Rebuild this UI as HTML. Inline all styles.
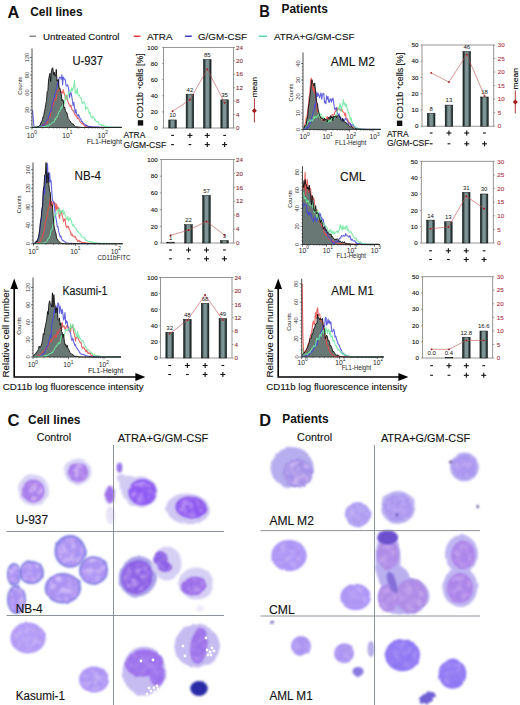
<!DOCTYPE html>
<html><head><meta charset="utf-8"><style>
html,body{margin:0;padding:0;background:#fff;width:520px;height:705px;overflow:hidden}
svg{display:block;font-family:"Liberation Sans",sans-serif}
</style></head><body>
<svg width="520" height="705" viewBox="0 0 520 705">
<defs>
<linearGradient id="bargrad" x1="0" x2="1" y1="0" y2="0">
<stop offset="0" stop-color="#161e1e"/><stop offset="0.15" stop-color="#2e3e3e"/><stop offset="0.35" stop-color="#7e9494"/><stop offset="0.65" stop-color="#7e9494"/><stop offset="0.85" stop-color="#2e3e3e"/><stop offset="1" stop-color="#161e1e"/>
</linearGradient>
<filter id="r1" x="-30%" y="-30%" width="160%" height="160%"><feTurbulence type="fractalNoise" baseFrequency="0.12" numOctaves="2" seed="4" result="t"/><feDisplacementMap in="SourceGraphic" in2="t" scale="2.5" xChannelSelector="R" yChannelSelector="G" result="d"/><feGaussianBlur in="d" stdDeviation="0.9"/></filter>
<filter id="r2" x="-30%" y="-30%" width="160%" height="160%"><feTurbulence type="fractalNoise" baseFrequency="0.3" numOctaves="2" seed="9" result="t"/><feDisplacementMap in="SourceGraphic" in2="t" scale="5" xChannelSelector="R" yChannelSelector="G" result="d"/><feGaussianBlur in="d" stdDeviation="0.9"/></filter>
<filter id="tex" x="0" y="0" width="100%" height="100%"><feTurbulence type="fractalNoise" baseFrequency="0.16" numOctaves="2" seed="2" result="n"/><feColorMatrix in="n" type="matrix" values="0 0 0 0 0.88  0 0 0 0 0.7  0 0 0 0 0.97  3.2 0 0 0 -1.3" result="c"/><feComposite in="c" in2="SourceAlpha" operator="in" result="m"/><feGaussianBlur in="m" stdDeviation="0.9"/></filter>
<filter id="texd" x="0" y="0" width="100%" height="100%"><feTurbulence type="fractalNoise" baseFrequency="0.17" numOctaves="2" seed="11" result="n"/><feColorMatrix in="n" type="matrix" values="0 0 0 0 0.46  0 0 0 0 0.28  0 0 0 0 0.84  3.2 0 0 0 -1.38" result="c"/><feComposite in="c" in2="SourceAlpha" operator="in" result="m"/><feGaussianBlur in="m" stdDeviation="0.9"/></filter>
<filter id="bv"><feGaussianBlur stdDeviation="0.3"/></filter>
<filter id="h1" x="-40%" y="-40%" width="180%" height="180%"><feTurbulence type="fractalNoise" baseFrequency="0.1" numOctaves="2" seed="5" result="t"/><feDisplacementMap in="SourceGraphic" in2="t" scale="3" xChannelSelector="R" yChannelSelector="G" result="d"/><feGaussianBlur in="d" stdDeviation="1.1"/></filter>
</defs>
<rect width="520" height="705" fill="#fff"/>
<g><g filter="url(#h1)">
<ellipse cx="33.3" cy="490" rx="15.5" ry="15.6" fill="#d9d4f6" />
</g>
<g filter="url(#r1)">
<ellipse cx="33.3" cy="490.9" rx="11.2" ry="11.5" fill="#a87cec" />
</g>
<g filter="url(#tex)" opacity="0.6">
<ellipse cx="33.3" cy="490.9" rx="9.52" ry="9.775" fill="#fff" />
</g>
<g filter="url(#texd)" opacity="0.48">
<ellipse cx="33.3" cy="490.9" rx="10.08" ry="10.35" fill="#fff" />
</g>
<g filter="url(#h1)">
<ellipse cx="78" cy="471.5" rx="13.5" ry="13" fill="#d9d4f6" />
</g>
<g filter="url(#r1)">
<ellipse cx="78" cy="472.3" rx="10.2" ry="9.8" fill="#a87cec" />
</g>
<g filter="url(#tex)" opacity="0.6">
<ellipse cx="78" cy="472.3" rx="8.67" ry="8.33" fill="#fff" />
</g>
<g filter="url(#texd)" opacity="0.48">
<ellipse cx="78" cy="472.3" rx="9.18" ry="8.82" fill="#fff" />
</g>
<g filter="url(#h1)">
<ellipse cx="110" cy="495" rx="5.5" ry="9.5" fill="#ddd6f4" />
</g>
<g filter="url(#r1)">
<ellipse cx="110" cy="495" rx="4.2" ry="8" fill="#a070ea" />
</g>
<g filter="url(#h1)">
<ellipse cx="110" cy="515" rx="4" ry="9" fill="#e8e3f6" />
</g>
<g filter="url(#r1)">
</g>
<g filter="url(#h1)">
<ellipse cx="140" cy="492" rx="17.5" ry="15.5" fill="#d2ccf2" />
<ellipse cx="127" cy="483" rx="9" ry="8" fill="#d2ccf2" transform="rotate(-35 127 483)" />
<ellipse cx="121" cy="478" rx="4" ry="4" fill="#d2ccf2" />
</g>
<g filter="url(#r1)">
<ellipse cx="142.4" cy="492.2" rx="14" ry="13" fill="#8c56f4" />
</g>
<g filter="url(#tex)" opacity="0.4">
<ellipse cx="142.4" cy="492.2" rx="11.9" ry="11.049999999999999" fill="#fff" />
</g>
<g filter="url(#texd)" opacity="0.32">
<ellipse cx="142.4" cy="492.2" rx="12.6" ry="11.700000000000001" fill="#fff" />
</g>
<g filter="url(#h1)">
<ellipse cx="119.5" cy="467.5" rx="2.8" ry="5.5" fill="#cdc3ee" />
</g>
<g filter="url(#r1)">
<ellipse cx="119.5" cy="467.5" rx="2.5" ry="5" fill="#9a74e8" />
</g>
<g filter="url(#h1)">
<ellipse cx="188" cy="509" rx="22" ry="15.5" fill="#d0c8f2" transform="rotate(5 188 509)" />
</g>
<g filter="url(#r1)">
<ellipse cx="191" cy="507.5" rx="15.5" ry="11" fill="#8c56f0" transform="rotate(5 191 507.5)" />
</g>
<g filter="url(#tex)" opacity="0.4">
<ellipse cx="191" cy="507.5" rx="13.174999999999999" ry="9.35" fill="#fff" transform="rotate(5 191 507.5)" />
</g>
<g filter="url(#texd)" opacity="0.32">
<ellipse cx="191" cy="507.5" rx="13.950000000000001" ry="9.9" fill="#fff" transform="rotate(5 191 507.5)" />
</g>
<g filter="url(#r1)">
<ellipse cx="70.1" cy="551.4" rx="15.6" ry="16.3" fill="#7c7ce0" />
<ellipse cx="70.1" cy="551.4" rx="13.799999999999999" ry="14.5" fill="#a892f4" />
</g>
<g filter="url(#tex)" opacity="0.6">
<ellipse cx="70.1" cy="551.4" rx="13.26" ry="13.855" fill="#fff" />
</g>
<g filter="url(#texd)" opacity="0.48">
<ellipse cx="70.1" cy="551.4" rx="14.04" ry="14.670000000000002" fill="#fff" />
</g>
<g filter="url(#r1)">
<ellipse cx="93.5" cy="570.4" rx="14.5" ry="14.2" fill="#7c7ce0" />
<ellipse cx="93.5" cy="570.4" rx="12.7" ry="12.399999999999999" fill="#a892f4" />
</g>
<g filter="url(#tex)" opacity="0.6">
<ellipse cx="93.5" cy="570.4" rx="12.325" ry="12.069999999999999" fill="#fff" />
</g>
<g filter="url(#texd)" opacity="0.48">
<ellipse cx="93.5" cy="570.4" rx="13.05" ry="12.78" fill="#fff" />
</g>
<g filter="url(#r1)">
<ellipse cx="62.9" cy="588.2" rx="18.2" ry="15.2" fill="#7c7ce0" />
<ellipse cx="62.9" cy="588.2" rx="16.4" ry="13.399999999999999" fill="#a892f4" />
</g>
<g filter="url(#tex)" opacity="0.6">
<ellipse cx="62.9" cy="588.2" rx="15.469999999999999" ry="12.92" fill="#fff" />
</g>
<g filter="url(#texd)" opacity="0.48">
<ellipse cx="62.9" cy="588.2" rx="16.38" ry="13.68" fill="#fff" />
</g>
<g filter="url(#r1)">
<ellipse cx="31.4" cy="572.5" rx="12.5" ry="11.5" fill="#7c7ce0" />
<ellipse cx="31.4" cy="572.5" rx="10.7" ry="9.7" fill="#a892f4" />
</g>
<g filter="url(#tex)" opacity="0.6">
<ellipse cx="31.4" cy="572.5" rx="10.625" ry="9.775" fill="#fff" />
</g>
<g filter="url(#texd)" opacity="0.48">
<ellipse cx="31.4" cy="572.5" rx="11.25" ry="10.35" fill="#fff" />
</g>
<g filter="url(#r1)">
<ellipse cx="14" cy="574.5" rx="7" ry="11.5" fill="#7c7ce0" />
<ellipse cx="14" cy="574.5" rx="5.2" ry="9.7" fill="#a892f4" />
</g>
<g filter="url(#tex)" opacity="0.6">
<ellipse cx="14" cy="574.5" rx="5.95" ry="9.775" fill="#fff" />
</g>
<g filter="url(#texd)" opacity="0.48">
<ellipse cx="14" cy="574.5" rx="6.3" ry="10.35" fill="#fff" />
</g>
<g filter="url(#r1)">
<ellipse cx="16.5" cy="599.5" rx="9.5" ry="14.5" fill="#7c7ce0" />
<ellipse cx="16.5" cy="599.5" rx="7.7" ry="12.7" fill="#a892f4" />
</g>
<g filter="url(#tex)" opacity="0.6">
<ellipse cx="16.5" cy="599.5" rx="8.075" ry="12.325" fill="#fff" />
</g>
<g filter="url(#texd)" opacity="0.48">
<ellipse cx="16.5" cy="599.5" rx="8.55" ry="13.05" fill="#fff" />
</g>
<g filter="url(#h1)">
<ellipse cx="138" cy="576.5" rx="19" ry="20.5" fill="#aca4ea" transform="rotate(25 138 576.5)" />
</g>
<g filter="url(#r1)">
<ellipse cx="137" cy="577" rx="15.5" ry="17" fill="#8a5ee6" transform="rotate(25 137 577)" />
</g>
<g filter="url(#tex)" opacity="0.4">
<ellipse cx="137" cy="577" rx="13.174999999999999" ry="14.45" fill="#fff" transform="rotate(25 137 577)" />
</g>
<g filter="url(#texd)" opacity="0.32">
<ellipse cx="137" cy="577" rx="13.950000000000001" ry="15.3" fill="#fff" transform="rotate(25 137 577)" />
</g>
<g filter="url(#h1)">
<ellipse cx="167" cy="563.5" rx="14.5" ry="17" fill="#d6d0f4" />
</g>
<g filter="url(#r1)">
<ellipse cx="161" cy="559" rx="6.5" ry="8" fill="#8a5ee6" transform="rotate(-20 161 559)" />
<ellipse cx="165" cy="567" rx="7" ry="5" fill="#8a5ee6" />
</g>
<g filter="url(#tex)" opacity="0.3">
<ellipse cx="161" cy="559" rx="5.5249999999999995" ry="6.8" fill="#fff" transform="rotate(-20 161 559)" />
<ellipse cx="165" cy="567" rx="5.95" ry="4.25" fill="#fff" />
</g>
<g filter="url(#texd)" opacity="0.24">
<ellipse cx="161" cy="559" rx="5.8500000000000005" ry="7.2" fill="#fff" transform="rotate(-20 161 559)" />
<ellipse cx="165" cy="567" rx="6.3" ry="4.5" fill="#fff" />
</g>
<g filter="url(#h1)">
<ellipse cx="196" cy="583.5" rx="17.5" ry="16" fill="#d6d0f4" />
</g>
<g filter="url(#r1)">
<ellipse cx="193.5" cy="586" rx="12.5" ry="9" fill="#9a6cea" transform="rotate(-10 193.5 586)" />
</g>
<g filter="url(#tex)" opacity="0.35">
<ellipse cx="193.5" cy="586" rx="10.625" ry="7.6499999999999995" fill="#fff" transform="rotate(-10 193.5 586)" />
</g>
<g filter="url(#texd)" opacity="0.28">
<ellipse cx="193.5" cy="586" rx="11.25" ry="8.1" fill="#fff" transform="rotate(-10 193.5 586)" />
</g>
<g filter="url(#h1)">
<ellipse cx="200" cy="609" rx="4" ry="2.5" fill="#eeeaf8" />
</g>
<g filter="url(#r1)">
</g>
<g filter="url(#r1)">
<ellipse cx="28" cy="638" rx="17.6" ry="15.5" fill="#b29cf6" />
</g>
<g filter="url(#tex)" opacity="0.35">
<ellipse cx="28" cy="638" rx="14.96" ry="13.174999999999999" fill="#fff" />
</g>
<g filter="url(#texd)" opacity="0.28">
<ellipse cx="28" cy="638" rx="15.840000000000002" ry="13.950000000000001" fill="#fff" />
</g>
<g filter="url(#r1)">
<ellipse cx="94" cy="679.5" rx="15" ry="13" fill="#ae98f6" />
</g>
<g filter="url(#tex)" opacity="0.35">
<ellipse cx="94" cy="679.5" rx="12.75" ry="11.049999999999999" fill="#fff" />
</g>
<g filter="url(#texd)" opacity="0.28">
<ellipse cx="94" cy="679.5" rx="13.5" ry="11.700000000000001" fill="#fff" />
</g>
<g filter="url(#h1)">
<ellipse cx="144" cy="671" rx="21.5" ry="24.5" fill="#c6bcf2" />
</g>
<g filter="url(#r1)">
<ellipse cx="144" cy="663" rx="19" ry="13.5" fill="#9c70ec" transform="rotate(-5 144 663)" />
<ellipse cx="157" cy="675" rx="7.5" ry="11" fill="#9c70ec" />
</g>
<g filter="url(#tex)" opacity="0.2">
<ellipse cx="144" cy="663" rx="16.15" ry="11.475" fill="#fff" transform="rotate(-5 144 663)" />
<ellipse cx="157" cy="675" rx="6.375" ry="9.35" fill="#fff" />
</g>
<g filter="url(#texd)" opacity="0.16">
<ellipse cx="144" cy="663" rx="17.1" ry="12.15" fill="#fff" transform="rotate(-5 144 663)" />
<ellipse cx="157" cy="675" rx="6.75" ry="9.9" fill="#fff" />
</g>
<g fill="#fbfaff" filter="url(#bv)"><circle cx="141" cy="661" r="1.4"/><circle cx="153" cy="660" r="1.4"/><circle cx="154" cy="688" r="1.4"/><circle cx="151" cy="691" r="1.4"/><circle cx="157" cy="686" r="1.4"/><circle cx="155" cy="692" r="1.4"/><circle cx="158" cy="689" r="1.4"/><circle cx="147" cy="694" r="1.4"/><circle cx="149" cy="688" r="1.4"/></g>
<g filter="url(#h1)">
<ellipse cx="197" cy="646" rx="22.7" ry="21.5" fill="#c6bcf2" />
</g>
<g filter="url(#r1)">
<ellipse cx="199" cy="646" rx="8.5" ry="18" fill="#9c72ea" transform="rotate(8 199 646)" />
</g>
<g filter="url(#tex)" opacity="0.2">
<ellipse cx="199" cy="646" rx="7.225" ry="15.299999999999999" fill="#fff" transform="rotate(8 199 646)" />
</g>
<g filter="url(#texd)" opacity="0.16">
<ellipse cx="199" cy="646" rx="7.65" ry="16.2" fill="#fff" transform="rotate(8 199 646)" />
</g>
<g fill="#fbfaff" filter="url(#bv)"><circle cx="207" cy="650" r="1.4"/><circle cx="210" cy="652" r="1.4"/><circle cx="208" cy="655" r="1.4"/><circle cx="212" cy="648" r="1.4"/><circle cx="211" cy="655" r="1.4"/><circle cx="214" cy="651" r="1.4"/><circle cx="183" cy="646" r="1.4"/><circle cx="185" cy="656" r="1.4"/><circle cx="206" cy="638" r="1.4"/></g>
<g filter="url(#r1)">
<ellipse cx="199" cy="688.5" rx="8.8" ry="7.5" fill="#2a2aa8" />
</g>
<g filter="url(#h1)">
<ellipse cx="292" cy="467.5" rx="21.5" ry="20.5" fill="#b6aeee" />
</g>
<g filter="url(#r2)">
<ellipse cx="298" cy="473" rx="15" ry="14" fill="#a494e8" />
</g>
<g filter="url(#tex)" opacity="0.5">
<ellipse cx="298" cy="473" rx="12.75" ry="11.9" fill="#fff" />
</g>
<g filter="url(#texd)" opacity="0.40">
<ellipse cx="298" cy="473" rx="13.5" ry="12.6" fill="#fff" />
</g>
<g filter="url(#r1)">
<ellipse cx="357.7" cy="514.5" rx="12.8" ry="12.5" fill="#aea0f2" />
</g>
<g filter="url(#tex)" opacity="0.3">
<ellipse cx="357.7" cy="514.5" rx="10.88" ry="10.625" fill="#fff" />
</g>
<g filter="url(#texd)" opacity="0.24">
<ellipse cx="357.7" cy="514.5" rx="11.520000000000001" ry="11.25" fill="#fff" />
</g>
<g filter="url(#h1)">
<ellipse cx="464.4" cy="467" rx="14.5" ry="14.5" fill="#bcb2f0" />
</g>
<g filter="url(#r2)">
<ellipse cx="464.4" cy="467" rx="12" ry="12" fill="#aa98f0" />
</g>
<g filter="url(#tex)" opacity="0.3">
<ellipse cx="464.4" cy="467" rx="10.2" ry="10.2" fill="#fff" />
</g>
<g filter="url(#texd)" opacity="0.24">
<ellipse cx="464.4" cy="467" rx="10.8" ry="10.8" fill="#fff" />
</g>
<g filter="url(#h1)">
<ellipse cx="398" cy="507.4" rx="17" ry="16.4" fill="#bcb2f0" />
</g>
<g filter="url(#r2)">
<ellipse cx="398" cy="507.4" rx="14" ry="13.5" fill="#aa98f0" />
</g>
<g filter="url(#tex)" opacity="0.3">
<ellipse cx="398" cy="507.4" rx="11.9" ry="11.475" fill="#fff" />
</g>
<g filter="url(#texd)" opacity="0.24">
<ellipse cx="398" cy="507.4" rx="12.6" ry="12.15" fill="#fff" />
</g>
<g filter="url(#r1)">
<ellipse cx="450.5" cy="462" rx="1.3" ry="1.3" fill="#3a2a80" />
<ellipse cx="478" cy="506" rx="1.5" ry="1.2" fill="#3a2a80" />
<ellipse cx="397" cy="515" rx="1" ry="1" fill="#3a2a80" />
</g>
<g filter="url(#r1)">
<ellipse cx="289" cy="555.5" rx="17.7" ry="15.6" fill="#ac96f6" />
</g>
<g filter="url(#tex)" opacity="0.3">
<ellipse cx="289" cy="555.5" rx="15.044999999999998" ry="13.26" fill="#fff" />
</g>
<g filter="url(#texd)" opacity="0.24">
<ellipse cx="289" cy="555.5" rx="15.93" ry="14.04" fill="#fff" />
</g>
<g filter="url(#r1)">
<ellipse cx="355.6" cy="597" rx="15.3" ry="13.2" fill="#ac96f6" />
</g>
<g filter="url(#tex)" opacity="0.3">
<ellipse cx="355.6" cy="597" rx="13.005" ry="11.219999999999999" fill="#fff" />
</g>
<g filter="url(#texd)" opacity="0.24">
<ellipse cx="355.6" cy="597" rx="13.770000000000001" ry="11.879999999999999" fill="#fff" />
</g>
<g filter="url(#h1)">
<ellipse cx="388" cy="560" rx="12.5" ry="30" fill="#bab0f0" />
<ellipse cx="404" cy="596" rx="25.5" ry="19" fill="#bab0f0" />
<ellipse cx="395" cy="580" rx="15" ry="15" fill="#bab0f0" />
</g>
<g filter="url(#r1)">
<ellipse cx="388" cy="555" rx="11" ry="14" fill="#ae8ce6" />
<ellipse cx="411" cy="596" rx="16" ry="17" fill="#ae8ce6" />
<ellipse cx="388" cy="598" rx="10" ry="14" fill="#ae8ce6" />
</g>
<g filter="url(#tex)" opacity="0.3">
<ellipse cx="388" cy="555" rx="9.35" ry="11.9" fill="#fff" />
<ellipse cx="411" cy="596" rx="13.6" ry="14.45" fill="#fff" />
<ellipse cx="388" cy="598" rx="8.5" ry="11.9" fill="#fff" />
</g>
<g filter="url(#texd)" opacity="0.24">
<ellipse cx="388" cy="555" rx="9.9" ry="12.6" fill="#fff" />
<ellipse cx="411" cy="596" rx="14.4" ry="15.3" fill="#fff" />
<ellipse cx="388" cy="598" rx="9.0" ry="12.6" fill="#fff" />
</g>
<g filter="url(#r1)">
<ellipse cx="387.5" cy="537.5" rx="10.5" ry="7" fill="#6c50cc" />
</g>
<g filter="url(#r1)">
<ellipse cx="392" cy="582" rx="4" ry="12" fill="#8470d8" transform="rotate(-20 392 582)" />
</g>
<g filter="url(#h1)">
<ellipse cx="461.5" cy="554" rx="16.5" ry="19" fill="#c0b6f2" />
<ellipse cx="460" cy="587" rx="17.5" ry="20" fill="#c0b6f2" />
</g>
<g filter="url(#r1)">
<ellipse cx="463" cy="555" rx="12" ry="14" fill="#ac84ea" />
<ellipse cx="460" cy="588" rx="13" ry="15" fill="#ac84ea" />
</g>
<g filter="url(#tex)" opacity="0.3">
<ellipse cx="463" cy="555" rx="10.2" ry="11.9" fill="#fff" />
<ellipse cx="460" cy="588" rx="11.049999999999999" ry="12.75" fill="#fff" />
</g>
<g filter="url(#texd)" opacity="0.24">
<ellipse cx="463" cy="555" rx="10.8" ry="12.6" fill="#fff" />
<ellipse cx="460" cy="588" rx="11.700000000000001" ry="13.5" fill="#fff" />
</g>
<g filter="url(#r1)">
<ellipse cx="301" cy="646" rx="10" ry="10" fill="#aa96f2" />
</g>
<g filter="url(#tex)" opacity="0.2">
<ellipse cx="301" cy="646" rx="8.5" ry="8.5" fill="#fff" />
</g>
<g filter="url(#texd)" opacity="0.16">
<ellipse cx="301" cy="646" rx="9.0" ry="9.0" fill="#fff" />
</g>
<g filter="url(#r1)">
<ellipse cx="344" cy="653.3" rx="10" ry="10" fill="#aa96f2" />
</g>
<g filter="url(#tex)" opacity="0.2">
<ellipse cx="344" cy="653.3" rx="8.5" ry="8.5" fill="#fff" />
</g>
<g filter="url(#texd)" opacity="0.16">
<ellipse cx="344" cy="653.3" rx="9.0" ry="9.0" fill="#fff" />
</g>
<g filter="url(#r1)">
<ellipse cx="358" cy="671.5" rx="5.5" ry="4.5" fill="#8878e0" />
</g>
<g filter="url(#r1)">
<ellipse cx="371" cy="649" rx="3.5" ry="8" fill="#b8aee8" />
</g>
<g filter="url(#r1)">
<ellipse cx="272" cy="622.5" rx="2" ry="1.5" fill="#8070c8" />
</g>
<g filter="url(#r1)">
<ellipse cx="402.5" cy="655" rx="17.5" ry="16.3" fill="#8e78f4" />
</g>
<g filter="url(#tex)" opacity="0.2">
<ellipse cx="402.5" cy="655" rx="14.875" ry="13.855" fill="#fff" />
</g>
<g filter="url(#texd)" opacity="0.16">
<ellipse cx="402.5" cy="655" rx="15.75" ry="14.670000000000002" fill="#fff" />
</g>
<g filter="url(#r1)">
<ellipse cx="452.5" cy="673.8" rx="13.8" ry="15" fill="#8e78f4" />
</g>
<g filter="url(#tex)" opacity="0.2">
<ellipse cx="452.5" cy="673.8" rx="11.73" ry="12.75" fill="#fff" />
</g>
<g filter="url(#texd)" opacity="0.16">
<ellipse cx="452.5" cy="673.8" rx="12.420000000000002" ry="13.5" fill="#fff" />
</g>
<g filter="url(#r2)">
<ellipse cx="427" cy="698" rx="9" ry="5" fill="#7060d4" transform="rotate(-30 427 698)" />
</g></g>
<g><line x1="113.50" y1="445.00" x2="113.50" y2="705.00" stroke="#808890" stroke-width="0.9" />
<line x1="6.50" y1="531.50" x2="224.00" y2="531.50" stroke="#808890" stroke-width="0.9" />
<line x1="6.50" y1="615.50" x2="224.00" y2="615.50" stroke="#808890" stroke-width="0.9" />
<line x1="374.50" y1="445.00" x2="374.50" y2="705.00" stroke="#808890" stroke-width="0.9" />
<line x1="260.50" y1="530.60" x2="480.00" y2="530.60" stroke="#808890" stroke-width="0.9" />
<line x1="260.50" y1="616.00" x2="480.00" y2="616.00" stroke="#808890" stroke-width="0.9" />
<text x="15.70" y="524.20" font-size="12" fill="#111" text-anchor="start" stroke="#111" stroke-width="0.12" textLength="32.3" lengthAdjust="spacingAndGlyphs" >U-937</text>
<text x="15.70" y="613.20" font-size="12" fill="#111" text-anchor="start" stroke="#111" stroke-width="0.12" textLength="27" lengthAdjust="spacingAndGlyphs" >NB-4</text>
<text x="15.70" y="700.00" font-size="12" fill="#111" text-anchor="start" stroke="#111" stroke-width="0.12" textLength="49.3" lengthAdjust="spacingAndGlyphs" >Kasumi-1</text>
<text x="269.40" y="524.60" font-size="12" fill="#111" text-anchor="start" stroke="#111" stroke-width="0.12" textLength="44.5" lengthAdjust="spacingAndGlyphs" >AML M2</text>
<text x="269.00" y="613.50" font-size="12" fill="#111" text-anchor="start" stroke="#111" stroke-width="0.12" textLength="25.7" lengthAdjust="spacingAndGlyphs" >CML</text>
<text x="269.40" y="700.00" font-size="12" fill="#111" text-anchor="start" stroke="#111" stroke-width="0.12" textLength="43.3" lengthAdjust="spacingAndGlyphs" >AML M1</text></g>
<g><text x="7.50" y="17.60" font-size="17" fill="#111" text-anchor="start" font-weight="bold" textLength="11.8" lengthAdjust="spacingAndGlyphs" >A</text>
<text x="30.20" y="16.30" font-size="12" fill="#111" text-anchor="start" font-weight="bold" textLength="52.4" lengthAdjust="spacingAndGlyphs" >Cell lines</text>
<text x="259.30" y="16.90" font-size="17" fill="#111" text-anchor="start" font-weight="bold" textLength="10.6" lengthAdjust="spacingAndGlyphs" >B</text>
<text x="281.50" y="12.50" font-size="12" fill="#111" text-anchor="start" font-weight="bold" textLength="46.4" lengthAdjust="spacingAndGlyphs" >Patients</text>
<line x1="29.50" y1="36.20" x2="36.00" y2="36.20" stroke="#777" stroke-width="1.3" />
<line x1="133.70" y1="36.20" x2="140.50" y2="36.20" stroke="#e02020" stroke-width="1.3" />
<line x1="185.00" y1="36.20" x2="191.80" y2="36.20" stroke="#2020c0" stroke-width="1.3" />
<line x1="258.70" y1="36.20" x2="267.00" y2="36.20" stroke="#40d0a0" stroke-width="1.3" />
<text x="43.00" y="39.50" font-size="9.7" fill="#111" text-anchor="start" stroke="#111" stroke-width="0.12" textLength="76.5" lengthAdjust="spacingAndGlyphs" >Untreated Control</text>
<text x="147.00" y="39.50" font-size="9.7" fill="#111" text-anchor="start" stroke="#111" stroke-width="0.12" textLength="25.5" lengthAdjust="spacingAndGlyphs" >ATRA</text>
<text x="198.00" y="39.50" font-size="9.7" fill="#111" text-anchor="start" stroke="#111" stroke-width="0.12" textLength="49" lengthAdjust="spacingAndGlyphs" >G/GM-CSF</text>
<text x="274.00" y="39.50" font-size="9.7" fill="#111" text-anchor="start" stroke="#111" stroke-width="0.12" textLength="80.5" lengthAdjust="spacingAndGlyphs" >ATRA+G/GM-CSF</text>
<path d="M32.00,127.50 L32.50,127.48 L33.20,127.47 L33.90,127.45 L34.60,127.42 L35.30,127.36 L36.00,127.29 L36.70,127.13 L37.40,126.85 L38.10,126.63 L38.80,126.36 L39.50,125.50 L40.20,125.08 L40.90,122.67 L41.60,122.51 L42.30,119.76 L43.00,117.06 L43.70,115.87 L44.40,111.76 L45.10,108.64 L45.80,104.23 L46.50,100.38 L47.20,91.78 L47.90,90.48 L48.60,80.00 L49.30,75.97 L50.00,73.31 L50.70,81.53 L51.40,70.71 L52.10,68.56 L52.80,67.71 L53.50,74.67 L54.20,72.10 L54.90,75.96 L55.60,75.99 L56.30,69.38 L57.00,81.17 L57.70,79.83 L58.40,79.49 L59.10,88.20 L59.80,88.03 L60.50,90.80 L61.20,93.89 L61.90,100.49 L62.60,99.49 L63.30,100.33 L64.00,108.18 L64.70,107.16 L65.40,110.75 L66.10,112.32 L66.80,112.52 L67.50,115.25 L68.20,118.70 L68.90,119.40 L69.60,120.45 L70.30,121.30 L71.00,122.48 L71.70,123.52 L72.40,123.94 L73.10,123.72 L73.80,124.97 L74.50,125.44 L75.20,126.44 L75.90,127.17 L76.60,126.68 L77.30,126.82 L78.00,126.95 L78.70,127.04 L79.40,127.14 L80.10,127.27 L80.80,127.32 L81.50,127.35 L82.20,127.41 L82.90,127.42 L83.60,127.44 L84.30,127.45 L85.00,127.47 L85.70,127.48 L86.40,127.48 L87.10,127.49 L87.80,127.49 L88.50,127.49 L89.20,127.50 L89.90,127.50 L90.60,127.50 L91.30,127.50 L92.00,127.50 L92.70,127.50 L93.40,127.50 L94.10,127.50 L94.80,127.50 L95.50,127.50 L96.20,127.50 L96.90,127.50 L97.60,127.50 L98.30,127.50 L99.00,127.50 L99.70,127.50 L100.40,127.50 L101.10,127.50 L101.80,127.50 L102.50,127.50 L103.20,127.50 L103.90,127.50 L104.60,127.50 L105.30,127.50 L106.00,127.50 L106.70,127.50 L107.40,127.50 L108.10,127.50 L108.80,127.50 L109.50,127.50 L110.20,127.50 L110.90,127.50 L111.60,127.50 L112.30,127.50 L113.00,127.50 L113.70,127.50 L114.40,127.50 L115.10,127.50 L115.80,127.50 L116.50,127.50 L117.20,127.50 L117.90,127.50 L118.60,127.50 L119.30,127.50 L120.00,127.50 L120.70,127.50 L121.40,127.50 L121.40,127.50 Z" fill="#6a7875" stroke="none"/>
<path d="M32.50,127.20 L33.20,127.19 L33.90,127.19 L34.60,127.19 L35.30,127.18 L36.00,127.16 L36.70,127.14 L37.40,127.12 L38.10,127.09 L38.80,127.01 L39.50,126.96 L40.20,126.80 L40.90,126.74 L41.60,126.49 L42.30,126.22 L43.00,126.49 L43.70,125.10 L44.40,124.40 L45.10,124.56 L45.80,122.55 L46.50,122.14 L47.20,123.23 L47.90,120.32 L48.60,117.94 L49.30,116.32 L50.00,117.01 L50.70,112.28 L51.40,110.53 L52.10,105.85 L52.80,105.87 L53.50,104.17 L54.20,99.39 L54.90,99.47 L55.60,98.89 L56.30,99.71 L57.00,90.94 L57.70,90.63 L58.40,90.73 L59.10,89.93 L59.80,90.37 L60.50,91.41 L61.20,91.61 L61.90,92.36 L62.60,93.09 L63.30,89.57 L64.00,93.03 L64.70,95.36 L65.40,98.02 L66.10,99.48 L66.80,95.39 L67.50,99.83 L68.20,102.34 L68.90,103.72 L69.60,105.80 L70.30,106.57 L71.00,105.33 L71.70,108.98 L72.40,110.12 L73.10,110.22 L73.80,111.84 L74.50,113.82 L75.20,114.82 L75.90,115.88 L76.60,115.84 L77.30,118.62 L78.00,117.89 L78.70,118.82 L79.40,120.38 L80.10,121.75 L80.80,122.81 L81.50,123.00 L82.20,123.84 L82.90,123.46 L83.60,124.78 L84.30,125.14 L85.00,126.51 L85.70,125.50 L86.40,126.66 L87.10,126.36 L87.80,126.52 L88.50,126.54 L89.20,126.77 L89.90,126.80 L90.60,126.88 L91.30,126.98 L92.00,127.03 L92.70,127.05 L93.40,127.11 L94.10,127.13 L94.80,127.15 L95.50,127.16 L96.20,127.17 L96.90,127.18 L97.60,127.19 L98.30,127.19 L99.00,127.19 L99.70,127.19 L100.40,127.20 L101.10,127.20 L101.80,127.20 L102.50,127.20 L103.20,127.20 L103.90,127.20 L104.60,127.20 L105.30,127.20 L106.00,127.20 L106.70,127.20 L107.40,127.20 L108.10,127.20 L108.80,127.20 L109.50,127.20 L110.20,127.20 L110.90,127.20 L111.60,127.20 L112.30,127.20 L113.00,127.20 L113.70,127.20 L114.40,127.20 L115.10,127.20 L115.80,127.20 L116.50,127.20 L117.20,127.20 L117.90,127.20 L118.60,127.20 L119.30,127.20 L120.00,127.20 L120.70,127.20 L121.40,127.20" fill="none" stroke="#e84848" stroke-width="1.1" stroke-opacity="0.85" stroke-linejoin="round"/>
<path d="M32.50,110.09 L33.20,117.30 L33.90,126.49 L34.60,127.15 L35.30,127.13 L36.00,127.12 L36.70,127.09 L37.40,127.03 L38.10,126.97 L38.80,126.89 L39.50,126.75 L40.20,126.65 L40.90,126.35 L41.60,126.01 L42.30,126.18 L43.00,124.99 L43.70,124.82 L44.40,124.98 L45.10,123.44 L45.80,122.89 L46.50,120.69 L47.20,120.42 L47.90,119.73 L48.60,116.00 L49.30,114.82 L50.00,112.17 L50.70,110.62 L51.40,110.79 L52.10,103.84 L52.80,101.79 L53.50,99.98 L54.20,97.00 L54.90,93.75 L55.60,93.47 L56.30,89.14 L57.00,87.47 L57.70,81.73 L58.40,85.48 L59.10,78.18 L59.80,77.24 L60.50,77.52 L61.20,79.17 L61.90,74.90 L62.60,84.94 L63.30,76.93 L64.00,79.09 L64.70,78.77 L65.40,80.44 L66.10,86.04 L66.80,86.03 L67.50,84.79 L68.20,86.87 L68.90,90.95 L69.60,97.46 L70.30,93.58 L71.00,92.52 L71.70,96.14 L72.40,100.67 L73.10,105.72 L73.80,102.26 L74.50,107.48 L75.20,112.87 L75.90,109.50 L76.60,113.86 L77.30,114.93 L78.00,116.32 L78.70,114.54 L79.40,117.25 L80.10,118.62 L80.80,118.76 L81.50,121.52 L82.20,121.58 L82.90,122.86 L83.60,123.44 L84.30,123.66 L85.00,124.50 L85.70,125.77 L86.40,124.98 L87.10,125.85 L87.80,126.11 L88.50,126.43 L89.20,126.21 L89.90,126.40 L90.60,126.52 L91.30,126.68 L92.00,126.80 L92.70,126.86 L93.40,126.96 L94.10,127.02 L94.80,127.03 L95.50,127.07 L96.20,127.10 L96.90,127.13 L97.60,127.14 L98.30,127.15 L99.00,127.17 L99.70,127.18 L100.40,127.18 L101.10,127.18 L101.80,127.19 L102.50,127.19 L103.20,127.19 L103.90,127.19 L104.60,127.20 L105.30,127.20 L106.00,127.20 L106.70,127.20 L107.40,127.20 L108.10,127.20 L108.80,127.20 L109.50,127.20 L110.20,127.20 L110.90,127.20 L111.60,127.20 L112.30,127.20 L113.00,127.20 L113.70,127.20 L114.40,127.20 L115.10,127.20 L115.80,127.20 L116.50,127.20 L117.20,127.20 L117.90,127.20 L118.60,127.20 L119.30,127.20 L120.00,127.20 L120.70,127.20 L121.40,127.20" fill="none" stroke="#4646d8" stroke-width="1.1" stroke-opacity="0.85" stroke-linejoin="round"/>
<path d="M32.50,127.19 L33.20,127.19 L33.90,127.18 L34.60,127.18 L35.30,127.17 L36.00,127.17 L36.70,127.15 L37.40,127.14 L38.10,127.11 L38.80,127.09 L39.50,127.05 L40.20,127.05 L40.90,126.97 L41.60,126.93 L42.30,126.88 L43.00,126.76 L43.70,126.72 L44.40,126.67 L45.10,126.45 L45.80,126.37 L46.50,126.10 L47.20,125.50 L47.90,125.84 L48.60,126.30 L49.30,124.41 L50.00,124.41 L50.70,124.14 L51.40,123.74 L52.10,122.72 L52.80,122.36 L53.50,122.24 L54.20,121.85 L54.90,118.69 L55.60,119.74 L56.30,116.79 L57.00,116.93 L57.70,115.48 L58.40,113.31 L59.10,111.37 L59.80,111.54 L60.50,109.47 L61.20,107.08 L61.90,108.35 L62.60,105.62 L63.30,103.71 L64.00,101.01 L64.70,103.59 L65.40,94.80 L66.10,97.02 L66.80,99.20 L67.50,99.30 L68.20,94.06 L68.90,92.50 L69.60,93.73 L70.30,90.55 L71.00,91.20 L71.70,87.73 L72.40,90.94 L73.10,88.60 L73.80,85.96 L74.50,80.38 L75.20,93.34 L75.90,91.18 L76.60,93.50 L77.30,88.21 L78.00,94.54 L78.70,95.74 L79.40,94.90 L80.10,97.40 L80.80,98.32 L81.50,98.31 L82.20,103.68 L82.90,103.01 L83.60,101.93 L84.30,102.57 L85.00,103.88 L85.70,109.93 L86.40,107.20 L87.10,107.55 L87.80,108.07 L88.50,110.94 L89.20,113.54 L89.90,112.17 L90.60,115.39 L91.30,116.98 L92.00,117.99 L92.70,116.20 L93.40,117.79 L94.10,117.74 L94.80,120.27 L95.50,119.53 L96.20,121.61 L96.90,122.09 L97.60,121.28 L98.30,122.20 L99.00,123.92 L99.70,124.17 L100.40,124.42 L101.10,124.46 L101.80,125.69 L102.50,124.99 L103.20,125.87 L103.90,125.54 L104.60,126.50 L105.30,125.86 L106.00,126.31 L106.70,126.42 L107.40,126.63 L108.10,126.64 L108.80,126.68 L109.50,126.80 L110.20,126.88 L110.90,126.94 L111.60,126.95 L112.30,127.04 L113.00,127.05 L113.70,127.07 L114.40,127.10 L115.10,127.12 L115.80,127.13 L116.50,127.15 L117.20,127.16 L117.90,127.17 L118.60,127.17 L119.30,127.18 L120.00,127.18 L120.70,127.19 L121.40,127.19" fill="none" stroke="#6ee8a0" stroke-width="1.1" stroke-opacity="0.85" stroke-linejoin="round"/>
<path d="M32.50,127.48 L33.20,127.47 L33.90,127.45 L34.60,127.42 L35.30,127.36 L36.00,127.29 L36.70,127.13 L37.40,126.85 L38.10,126.63 L38.80,126.36 L39.50,125.50 L40.20,125.08 L40.90,122.67 L41.60,122.51 L42.30,119.76 L43.00,117.06 L43.70,115.87 L44.40,111.76 L45.10,108.64 L45.80,104.23 L46.50,100.38 L47.20,91.78 L47.90,90.48 L48.60,80.00 L49.30,75.97 L50.00,73.31 L50.70,81.53 L51.40,70.71 L52.10,68.56 L52.80,67.71 L53.50,74.67 L54.20,72.10 L54.90,75.96 L55.60,75.99 L56.30,69.38 L57.00,81.17 L57.70,79.83 L58.40,79.49 L59.10,88.20 L59.80,88.03 L60.50,90.80 L61.20,93.89 L61.90,100.49 L62.60,99.49 L63.30,100.33 L64.00,108.18 L64.70,107.16 L65.40,110.75 L66.10,112.32 L66.80,112.52 L67.50,115.25 L68.20,118.70 L68.90,119.40 L69.60,120.45 L70.30,121.30 L71.00,122.48 L71.70,123.52 L72.40,123.94 L73.10,123.72 L73.80,124.97 L74.50,125.44 L75.20,126.44 L75.90,127.17 L76.60,126.68 L77.30,126.82 L78.00,126.95 L78.70,127.04 L79.40,127.14 L80.10,127.27 L80.80,127.32 L81.50,127.35 L82.20,127.41 L82.90,127.42 L83.60,127.44 L84.30,127.45 L85.00,127.47 L85.70,127.48 L86.40,127.48 L87.10,127.49 L87.80,127.49 L88.50,127.49 L89.20,127.50 L89.90,127.50 L90.60,127.50 L91.30,127.50 L92.00,127.50 L92.70,127.50 L93.40,127.50 L94.10,127.50 L94.80,127.50 L95.50,127.50 L96.20,127.50 L96.90,127.50 L97.60,127.50 L98.30,127.50 L99.00,127.50 L99.70,127.50 L100.40,127.50 L101.10,127.50 L101.80,127.50 L102.50,127.50 L103.20,127.50 L103.90,127.50 L104.60,127.50 L105.30,127.50 L106.00,127.50 L106.70,127.50 L107.40,127.50 L108.10,127.50 L108.80,127.50 L109.50,127.50 L110.20,127.50 L110.90,127.50 L111.60,127.50 L112.30,127.50 L113.00,127.50 L113.70,127.50 L114.40,127.50 L115.10,127.50 L115.80,127.50 L116.50,127.50 L117.20,127.50 L117.90,127.50 L118.60,127.50 L119.30,127.50 L120.00,127.50 L120.70,127.50 L121.40,127.50" fill="none" stroke="#111" stroke-width="0.9" stroke-linejoin="round"/>
<line x1="32.00" y1="48.50" x2="32.00" y2="127.50" stroke="#222" stroke-width="0.8" />
<line x1="32.00" y1="127.50" x2="122.00" y2="127.50" stroke="#222" stroke-width="0.8" />
<line x1="30.00" y1="127.50" x2="32.00" y2="127.50" stroke="#222" stroke-width="0.6" />
<text x="28.80" y="127.50" font-size="5.6" fill="#333" text-anchor="middle" transform="rotate(-90 28.80 127.50)" >0</text>
<line x1="30.00" y1="110.00" x2="32.00" y2="110.00" stroke="#222" stroke-width="0.6" />
<text x="28.80" y="110.00" font-size="5.6" fill="#333" text-anchor="middle" transform="rotate(-90 28.80 110.00)" >30</text>
<line x1="30.00" y1="92.50" x2="32.00" y2="92.50" stroke="#222" stroke-width="0.6" />
<text x="28.80" y="92.50" font-size="5.6" fill="#333" text-anchor="middle" transform="rotate(-90 28.80 92.50)" >60</text>
<line x1="30.00" y1="75.00" x2="32.00" y2="75.00" stroke="#222" stroke-width="0.6" />
<text x="28.80" y="75.00" font-size="5.6" fill="#333" text-anchor="middle" transform="rotate(-90 28.80 75.00)" >90</text>
<line x1="30.00" y1="57.50" x2="32.00" y2="57.50" stroke="#222" stroke-width="0.6" />
<text x="28.80" y="57.50" font-size="5.6" fill="#333" text-anchor="middle" transform="rotate(-90 28.80 57.50)" >120</text>
<line x1="30.80" y1="124.00" x2="32.00" y2="124.00" stroke="#222" stroke-width="0.5" />
<line x1="30.80" y1="120.50" x2="32.00" y2="120.50" stroke="#222" stroke-width="0.5" />
<line x1="30.80" y1="117.00" x2="32.00" y2="117.00" stroke="#222" stroke-width="0.5" />
<line x1="30.80" y1="113.50" x2="32.00" y2="113.50" stroke="#222" stroke-width="0.5" />
<line x1="30.80" y1="106.50" x2="32.00" y2="106.50" stroke="#222" stroke-width="0.5" />
<line x1="30.80" y1="103.00" x2="32.00" y2="103.00" stroke="#222" stroke-width="0.5" />
<line x1="30.80" y1="99.50" x2="32.00" y2="99.50" stroke="#222" stroke-width="0.5" />
<line x1="30.80" y1="96.00" x2="32.00" y2="96.00" stroke="#222" stroke-width="0.5" />
<line x1="30.80" y1="89.00" x2="32.00" y2="89.00" stroke="#222" stroke-width="0.5" />
<line x1="30.80" y1="85.50" x2="32.00" y2="85.50" stroke="#222" stroke-width="0.5" />
<line x1="30.80" y1="82.00" x2="32.00" y2="82.00" stroke="#222" stroke-width="0.5" />
<line x1="30.80" y1="78.50" x2="32.00" y2="78.50" stroke="#222" stroke-width="0.5" />
<line x1="30.80" y1="71.50" x2="32.00" y2="71.50" stroke="#222" stroke-width="0.5" />
<line x1="30.80" y1="68.00" x2="32.00" y2="68.00" stroke="#222" stroke-width="0.5" />
<line x1="30.80" y1="64.50" x2="32.00" y2="64.50" stroke="#222" stroke-width="0.5" />
<line x1="30.80" y1="61.00" x2="32.00" y2="61.00" stroke="#222" stroke-width="0.5" />
<text x="22.30" y="85.75" font-size="5.6" fill="#222" text-anchor="middle" transform="rotate(-90 22.30 85.75)" >Counts</text>
<line x1="32.00" y1="127.50" x2="32.00" y2="129.70" stroke="#222" stroke-width="0.6" />
<text x="30.50" y="137.70" font-size="6.7" fill="#222" text-anchor="middle" >10</text>
<text x="34.30" y="134.10" font-size="4.8" fill="#222" text-anchor="start" >0</text>
<line x1="42.69" y1="127.50" x2="42.69" y2="128.70" stroke="#222" stroke-width="0.5" />
<line x1="48.94" y1="127.50" x2="48.94" y2="128.70" stroke="#222" stroke-width="0.5" />
<line x1="53.37" y1="127.50" x2="53.37" y2="128.70" stroke="#222" stroke-width="0.5" />
<line x1="56.81" y1="127.50" x2="56.81" y2="128.70" stroke="#222" stroke-width="0.5" />
<line x1="59.62" y1="127.50" x2="59.62" y2="128.70" stroke="#222" stroke-width="0.5" />
<line x1="62.00" y1="127.50" x2="62.00" y2="128.70" stroke="#222" stroke-width="0.5" />
<line x1="64.06" y1="127.50" x2="64.06" y2="128.70" stroke="#222" stroke-width="0.5" />
<line x1="65.88" y1="127.50" x2="65.88" y2="128.70" stroke="#222" stroke-width="0.5" />
<line x1="67.50" y1="127.50" x2="67.50" y2="129.70" stroke="#222" stroke-width="0.6" />
<text x="66.00" y="137.70" font-size="6.7" fill="#222" text-anchor="middle" >10</text>
<text x="69.80" y="134.10" font-size="4.8" fill="#222" text-anchor="start" >1</text>
<line x1="78.19" y1="127.50" x2="78.19" y2="128.70" stroke="#222" stroke-width="0.5" />
<line x1="84.44" y1="127.50" x2="84.44" y2="128.70" stroke="#222" stroke-width="0.5" />
<line x1="88.87" y1="127.50" x2="88.87" y2="128.70" stroke="#222" stroke-width="0.5" />
<line x1="92.31" y1="127.50" x2="92.31" y2="128.70" stroke="#222" stroke-width="0.5" />
<line x1="95.12" y1="127.50" x2="95.12" y2="128.70" stroke="#222" stroke-width="0.5" />
<line x1="97.50" y1="127.50" x2="97.50" y2="128.70" stroke="#222" stroke-width="0.5" />
<line x1="99.56" y1="127.50" x2="99.56" y2="128.70" stroke="#222" stroke-width="0.5" />
<line x1="101.38" y1="127.50" x2="101.38" y2="128.70" stroke="#222" stroke-width="0.5" />
<line x1="103.00" y1="127.50" x2="103.00" y2="129.70" stroke="#222" stroke-width="0.6" />
<text x="101.50" y="137.70" font-size="6.7" fill="#222" text-anchor="middle" >10</text>
<text x="105.30" y="134.10" font-size="4.8" fill="#222" text-anchor="start" >2</text>
<text x="86.70" y="144.00" font-size="6.6" fill="#222" text-anchor="start" textLength="35.3" lengthAdjust="spacingAndGlyphs" >FL1-Height</text>
<text x="72.50" y="65.00" font-size="12" fill="#111" text-anchor="start" stroke="#111" stroke-width="0.12" textLength="30.5" lengthAdjust="spacingAndGlyphs" >U-937</text>
<path d="M33.00,243.75 L33.50,243.64 L34.20,243.52 L34.90,243.21 L35.60,242.95 L36.30,240.75 L37.00,241.98 L37.70,239.57 L38.40,237.53 L39.10,233.79 L39.80,228.37 L40.50,221.62 L41.20,217.44 L41.90,210.28 L42.60,205.15 L43.30,190.18 L44.00,186.17 L44.70,174.79 L45.40,174.43 L46.10,162.50 L46.80,183.20 L47.50,175.98 L48.20,172.63 L48.90,184.41 L49.60,191.20 L50.30,192.98 L51.00,205.40 L51.70,205.35 L52.40,205.24 L53.10,215.16 L53.80,224.88 L54.50,228.22 L55.20,231.26 L55.90,233.27 L56.60,238.15 L57.30,238.92 L58.00,240.31 L58.70,241.34 L59.40,241.93 L60.10,242.31 L60.80,243.09 L61.50,243.30 L62.20,243.50 L62.90,243.56 L63.60,243.65 L64.30,243.68 L65.00,243.71 L65.70,243.73 L66.40,243.74 L67.10,243.74 L67.80,243.75 L68.50,243.75 L69.20,243.75 L69.90,243.75 L70.60,243.75 L71.30,243.75 L72.00,243.75 L72.70,243.75 L73.40,243.75 L74.10,243.75 L74.80,243.75 L75.50,243.75 L76.20,243.75 L76.90,243.75 L77.60,243.75 L78.30,243.75 L79.00,243.75 L79.70,243.75 L80.40,243.75 L81.10,243.75 L81.80,243.75 L82.50,243.75 L83.20,243.75 L83.90,243.75 L84.60,243.75 L85.30,243.75 L86.00,243.75 L86.70,243.75 L87.40,243.75 L88.10,243.75 L88.80,243.75 L89.50,243.75 L90.20,243.75 L90.90,243.75 L91.60,243.75 L92.30,243.75 L93.00,243.75 L93.70,243.75 L94.40,243.75 L95.10,243.75 L95.80,243.75 L96.50,243.75 L97.20,243.75 L97.90,243.75 L98.60,243.75 L99.30,243.75 L100.00,243.75 L100.70,243.75 L101.40,243.75 L102.10,243.75 L102.80,243.75 L103.50,243.75 L104.20,243.75 L104.90,243.75 L105.60,243.75 L106.30,243.75 L107.00,243.75 L107.70,243.75 L108.40,243.75 L109.10,243.75 L109.80,243.75 L110.50,243.75 L111.20,243.75 L111.90,243.75 L112.60,243.75 L113.30,243.75 L114.00,243.75 L114.70,243.75 L115.40,243.75 L116.10,243.75 L116.80,243.75 L117.50,243.75 L118.20,243.75 L118.90,243.75 L119.60,243.75 L120.30,243.75 L121.00,243.75 L121.70,243.75 L122.40,243.75 L122.40,243.75 Z" fill="#6a7875" stroke="none"/>
<path d="M33.50,243.43 L34.20,243.41 L34.90,243.38 L35.60,243.33 L36.30,243.23 L37.00,243.11 L37.70,242.89 L38.40,242.54 L39.10,242.36 L39.80,242.61 L40.50,240.94 L41.20,239.08 L41.90,237.92 L42.60,236.62 L43.30,233.57 L44.00,231.34 L44.70,226.69 L45.40,222.16 L46.10,219.56 L46.80,217.06 L47.50,213.37 L48.20,208.77 L48.90,208.44 L49.60,204.01 L50.30,197.55 L51.00,207.87 L51.70,201.31 L52.40,206.03 L53.10,202.71 L53.80,201.90 L54.50,204.60 L55.20,203.35 L55.90,210.61 L56.60,204.00 L57.30,209.39 L58.00,206.87 L58.70,210.44 L59.40,218.48 L60.10,215.12 L60.80,213.11 L61.50,210.99 L62.20,215.81 L62.90,218.07 L63.60,221.62 L64.30,219.63 L65.00,218.79 L65.70,224.44 L66.40,227.44 L67.10,227.35 L67.80,226.03 L68.50,226.85 L69.20,229.62 L69.90,230.52 L70.60,232.12 L71.30,235.31 L72.00,234.04 L72.70,235.97 L73.40,236.26 L74.10,236.16 L74.80,237.26 L75.50,236.77 L76.20,239.22 L76.90,239.55 L77.60,241.45 L78.30,241.10 L79.00,240.11 L79.70,241.91 L80.40,241.30 L81.10,241.79 L81.80,242.78 L82.50,242.49 L83.20,242.78 L83.90,242.48 L84.60,242.61 L85.30,242.65 L86.00,242.94 L86.70,242.99 L87.40,243.01 L88.10,243.11 L88.80,243.17 L89.50,243.18 L90.20,243.26 L90.90,243.30 L91.60,243.33 L92.30,243.34 L93.00,243.36 L93.70,243.39 L94.40,243.40 L95.10,243.40 L95.80,243.41 L96.50,243.42 L97.20,243.42 L97.90,243.43 L98.60,243.44 L99.30,243.44 L100.00,243.44 L100.70,243.44 L101.40,243.44 L102.10,243.45 L102.80,243.45 L103.50,243.45 L104.20,243.45 L104.90,243.45 L105.60,243.45 L106.30,243.45 L107.00,243.45 L107.70,243.45 L108.40,243.45 L109.10,243.45 L109.80,243.45 L110.50,243.45 L111.20,243.45 L111.90,243.45 L112.60,243.45 L113.30,243.45 L114.00,243.45 L114.70,243.45 L115.40,243.45 L116.10,243.45 L116.80,243.45 L117.50,243.45 L118.20,243.45 L118.90,243.45 L119.60,243.45 L120.30,243.45 L121.00,243.45 L121.70,243.45 L122.40,243.45" fill="none" stroke="#e84848" stroke-width="1.1" stroke-opacity="0.85" stroke-linejoin="round"/>
<path d="M33.50,243.34 L34.20,243.24 L34.90,243.00 L35.60,242.79 L36.30,241.96 L37.00,240.88 L37.70,240.11 L38.40,238.26 L39.10,235.16 L39.80,231.21 L40.50,222.51 L41.20,221.54 L41.90,208.43 L42.60,207.03 L43.30,192.55 L44.00,186.89 L44.70,194.29 L45.40,175.81 L46.10,178.95 L46.80,174.40 L47.50,163.49 L48.20,180.57 L48.90,182.00 L49.60,172.86 L50.30,181.88 L51.00,180.46 L51.70,190.17 L52.40,199.47 L53.10,201.38 L53.80,202.08 L54.50,207.68 L55.20,214.06 L55.90,217.69 L56.60,221.78 L57.30,226.80 L58.00,226.48 L58.70,231.63 L59.40,234.07 L60.10,236.92 L60.80,235.92 L61.50,238.45 L62.20,240.07 L62.90,240.43 L63.60,240.56 L64.30,241.78 L65.00,241.70 L65.70,242.47 L66.40,242.81 L67.10,242.96 L67.80,243.08 L68.50,243.20 L69.20,243.29 L69.90,243.32 L70.60,243.37 L71.30,243.40 L72.00,243.42 L72.70,243.43 L73.40,243.44 L74.10,243.44 L74.80,243.44 L75.50,243.45 L76.20,243.45 L76.90,243.45 L77.60,243.45 L78.30,243.45 L79.00,243.45 L79.70,243.45 L80.40,243.45 L81.10,243.45 L81.80,243.45 L82.50,243.45 L83.20,243.45 L83.90,243.45 L84.60,243.45 L85.30,243.45 L86.00,243.45 L86.70,243.45 L87.40,243.45 L88.10,243.45 L88.80,243.45 L89.50,243.45 L90.20,243.45 L90.90,243.45 L91.60,243.45 L92.30,243.45 L93.00,243.45 L93.70,243.45 L94.40,243.45 L95.10,243.45 L95.80,243.45 L96.50,243.45 L97.20,243.45 L97.90,243.45 L98.60,243.45 L99.30,243.45 L100.00,243.45 L100.70,243.45 L101.40,243.45 L102.10,243.45 L102.80,243.45 L103.50,243.45 L104.20,243.45 L104.90,243.45 L105.60,243.45 L106.30,243.45 L107.00,243.45 L107.70,243.45 L108.40,243.45 L109.10,243.45 L109.80,243.45 L110.50,243.45 L111.20,243.45 L111.90,243.45 L112.60,243.45 L113.30,243.45 L114.00,243.45 L114.70,243.45 L115.40,243.45 L116.10,243.45 L116.80,243.45 L117.50,243.45 L118.20,243.45 L118.90,243.45 L119.60,243.45 L120.30,243.45 L121.00,243.45 L121.70,243.45 L122.40,243.45" fill="none" stroke="#4646d8" stroke-width="1.1" stroke-opacity="0.85" stroke-linejoin="round"/>
<path d="M33.50,243.45 L34.20,243.45 L34.90,243.45 L35.60,243.45 L36.30,243.45 L37.00,243.45 L37.70,243.44 L38.40,243.44 L39.10,243.43 L39.80,243.42 L40.50,243.40 L41.20,243.35 L41.90,243.32 L42.60,243.23 L43.30,243.11 L44.00,242.89 L44.70,242.72 L45.40,242.67 L46.10,242.20 L46.80,241.50 L47.50,240.29 L48.20,238.58 L48.90,238.41 L49.60,236.37 L50.30,234.76 L51.00,230.14 L51.70,230.15 L52.40,228.44 L53.10,223.98 L53.80,223.24 L54.50,216.47 L55.20,213.56 L55.90,214.89 L56.60,213.56 L57.30,210.88 L58.00,209.22 L58.70,211.94 L59.40,208.08 L60.10,214.63 L60.80,210.41 L61.50,212.07 L62.20,211.98 L62.90,209.63 L63.60,214.21 L64.30,211.66 L65.00,214.59 L65.70,216.18 L66.40,218.57 L67.10,219.67 L67.80,216.35 L68.50,220.88 L69.20,219.82 L69.90,217.79 L70.60,219.99 L71.30,219.94 L72.00,223.71 L72.70,225.86 L73.40,224.58 L74.10,226.46 L74.80,227.06 L75.50,227.93 L76.20,228.32 L76.90,230.78 L77.60,231.23 L78.30,231.93 L79.00,233.04 L79.70,233.19 L80.40,234.25 L81.10,235.68 L81.80,236.96 L82.50,237.17 L83.20,237.76 L83.90,237.92 L84.60,237.33 L85.30,239.41 L86.00,240.49 L86.70,240.70 L87.40,240.80 L88.10,241.80 L88.80,241.78 L89.50,241.35 L90.20,241.48 L90.90,241.91 L91.60,242.76 L92.30,241.79 L93.00,242.71 L93.70,242.45 L94.40,242.74 L95.10,242.77 L95.80,242.88 L96.50,243.01 L97.20,243.05 L97.90,243.11 L98.60,243.21 L99.30,243.19 L100.00,243.23 L100.70,243.28 L101.40,243.32 L102.10,243.31 L102.80,243.35 L103.50,243.36 L104.20,243.37 L104.90,243.39 L105.60,243.40 L106.30,243.41 L107.00,243.42 L107.70,243.42 L108.40,243.43 L109.10,243.43 L109.80,243.44 L110.50,243.44 L111.20,243.44 L111.90,243.44 L112.60,243.44 L113.30,243.45 L114.00,243.45 L114.70,243.45 L115.40,243.45 L116.10,243.45 L116.80,243.45 L117.50,243.45 L118.20,243.45 L118.90,243.45 L119.60,243.45 L120.30,243.45 L121.00,243.45 L121.70,243.45 L122.40,243.45" fill="none" stroke="#6ee8a0" stroke-width="1.1" stroke-opacity="0.85" stroke-linejoin="round"/>
<path d="M33.50,243.64 L34.20,243.52 L34.90,243.21 L35.60,242.95 L36.30,240.75 L37.00,241.98 L37.70,239.57 L38.40,237.53 L39.10,233.79 L39.80,228.37 L40.50,221.62 L41.20,217.44 L41.90,210.28 L42.60,205.15 L43.30,190.18 L44.00,186.17 L44.70,174.79 L45.40,174.43 L46.10,162.50 L46.80,183.20 L47.50,175.98 L48.20,172.63 L48.90,184.41 L49.60,191.20 L50.30,192.98 L51.00,205.40 L51.70,205.35 L52.40,205.24 L53.10,215.16 L53.80,224.88 L54.50,228.22 L55.20,231.26 L55.90,233.27 L56.60,238.15 L57.30,238.92 L58.00,240.31 L58.70,241.34 L59.40,241.93 L60.10,242.31 L60.80,243.09 L61.50,243.30 L62.20,243.50 L62.90,243.56 L63.60,243.65 L64.30,243.68 L65.00,243.71 L65.70,243.73 L66.40,243.74 L67.10,243.74 L67.80,243.75 L68.50,243.75 L69.20,243.75 L69.90,243.75 L70.60,243.75 L71.30,243.75 L72.00,243.75 L72.70,243.75 L73.40,243.75 L74.10,243.75 L74.80,243.75 L75.50,243.75 L76.20,243.75 L76.90,243.75 L77.60,243.75 L78.30,243.75 L79.00,243.75 L79.70,243.75 L80.40,243.75 L81.10,243.75 L81.80,243.75 L82.50,243.75 L83.20,243.75 L83.90,243.75 L84.60,243.75 L85.30,243.75 L86.00,243.75 L86.70,243.75 L87.40,243.75 L88.10,243.75 L88.80,243.75 L89.50,243.75 L90.20,243.75 L90.90,243.75 L91.60,243.75 L92.30,243.75 L93.00,243.75 L93.70,243.75 L94.40,243.75 L95.10,243.75 L95.80,243.75 L96.50,243.75 L97.20,243.75 L97.90,243.75 L98.60,243.75 L99.30,243.75 L100.00,243.75 L100.70,243.75 L101.40,243.75 L102.10,243.75 L102.80,243.75 L103.50,243.75 L104.20,243.75 L104.90,243.75 L105.60,243.75 L106.30,243.75 L107.00,243.75 L107.70,243.75 L108.40,243.75 L109.10,243.75 L109.80,243.75 L110.50,243.75 L111.20,243.75 L111.90,243.75 L112.60,243.75 L113.30,243.75 L114.00,243.75 L114.70,243.75 L115.40,243.75 L116.10,243.75 L116.80,243.75 L117.50,243.75 L118.20,243.75 L118.90,243.75 L119.60,243.75 L120.30,243.75 L121.00,243.75 L121.70,243.75 L122.40,243.75" fill="none" stroke="#111" stroke-width="0.9" stroke-linejoin="round"/>
<line x1="33.00" y1="162.50" x2="33.00" y2="243.75" stroke="#222" stroke-width="0.8" />
<line x1="33.00" y1="243.75" x2="123.00" y2="243.75" stroke="#222" stroke-width="0.8" />
<line x1="31.00" y1="243.75" x2="33.00" y2="243.75" stroke="#222" stroke-width="0.6" />
<text x="29.80" y="243.75" font-size="5.6" fill="#333" text-anchor="middle" transform="rotate(-90 29.80 243.75)" >0</text>
<line x1="31.00" y1="225.20" x2="33.00" y2="225.20" stroke="#222" stroke-width="0.6" />
<text x="29.80" y="225.20" font-size="5.6" fill="#333" text-anchor="middle" transform="rotate(-90 29.80 225.20)" >40</text>
<line x1="31.00" y1="206.70" x2="33.00" y2="206.70" stroke="#222" stroke-width="0.6" />
<text x="29.80" y="206.70" font-size="5.6" fill="#333" text-anchor="middle" transform="rotate(-90 29.80 206.70)" >80</text>
<line x1="31.00" y1="188.20" x2="33.00" y2="188.20" stroke="#222" stroke-width="0.6" />
<text x="29.80" y="188.20" font-size="5.6" fill="#333" text-anchor="middle" transform="rotate(-90 29.80 188.20)" >120</text>
<line x1="31.00" y1="169.70" x2="33.00" y2="169.70" stroke="#222" stroke-width="0.6" />
<text x="29.80" y="169.70" font-size="5.6" fill="#333" text-anchor="middle" transform="rotate(-90 29.80 169.70)" >160</text>
<line x1="31.80" y1="240.04" x2="33.00" y2="240.04" stroke="#222" stroke-width="0.5" />
<line x1="31.80" y1="236.33" x2="33.00" y2="236.33" stroke="#222" stroke-width="0.5" />
<line x1="31.80" y1="232.62" x2="33.00" y2="232.62" stroke="#222" stroke-width="0.5" />
<line x1="31.80" y1="228.91" x2="33.00" y2="228.91" stroke="#222" stroke-width="0.5" />
<line x1="31.80" y1="221.50" x2="33.00" y2="221.50" stroke="#222" stroke-width="0.5" />
<line x1="31.80" y1="217.80" x2="33.00" y2="217.80" stroke="#222" stroke-width="0.5" />
<line x1="31.80" y1="214.10" x2="33.00" y2="214.10" stroke="#222" stroke-width="0.5" />
<line x1="31.80" y1="210.40" x2="33.00" y2="210.40" stroke="#222" stroke-width="0.5" />
<line x1="31.80" y1="203.00" x2="33.00" y2="203.00" stroke="#222" stroke-width="0.5" />
<line x1="31.80" y1="199.30" x2="33.00" y2="199.30" stroke="#222" stroke-width="0.5" />
<line x1="31.80" y1="195.60" x2="33.00" y2="195.60" stroke="#222" stroke-width="0.5" />
<line x1="31.80" y1="191.90" x2="33.00" y2="191.90" stroke="#222" stroke-width="0.5" />
<line x1="31.80" y1="184.50" x2="33.00" y2="184.50" stroke="#222" stroke-width="0.5" />
<line x1="31.80" y1="180.80" x2="33.00" y2="180.80" stroke="#222" stroke-width="0.5" />
<line x1="31.80" y1="177.10" x2="33.00" y2="177.10" stroke="#222" stroke-width="0.5" />
<line x1="31.80" y1="173.40" x2="33.00" y2="173.40" stroke="#222" stroke-width="0.5" />
<text x="21.00" y="204.40" font-size="5.6" fill="#222" text-anchor="middle" transform="rotate(-90 21.00 204.40)" >Counts</text>
<line x1="33.50" y1="243.75" x2="33.50" y2="245.95" stroke="#222" stroke-width="0.6" />
<text x="32.00" y="253.75" font-size="6.7" fill="#222" text-anchor="middle" >10</text>
<text x="35.80" y="250.15" font-size="4.8" fill="#222" text-anchor="start" >0</text>
<line x1="46.14" y1="243.75" x2="46.14" y2="244.95" stroke="#222" stroke-width="0.5" />
<line x1="53.54" y1="243.75" x2="53.54" y2="244.95" stroke="#222" stroke-width="0.5" />
<line x1="58.79" y1="243.75" x2="58.79" y2="244.95" stroke="#222" stroke-width="0.5" />
<line x1="62.86" y1="243.75" x2="62.86" y2="244.95" stroke="#222" stroke-width="0.5" />
<line x1="66.18" y1="243.75" x2="66.18" y2="244.95" stroke="#222" stroke-width="0.5" />
<line x1="68.99" y1="243.75" x2="68.99" y2="244.95" stroke="#222" stroke-width="0.5" />
<line x1="71.43" y1="243.75" x2="71.43" y2="244.95" stroke="#222" stroke-width="0.5" />
<line x1="73.58" y1="243.75" x2="73.58" y2="244.95" stroke="#222" stroke-width="0.5" />
<line x1="75.50" y1="243.75" x2="75.50" y2="245.95" stroke="#222" stroke-width="0.6" />
<text x="74.00" y="253.75" font-size="6.7" fill="#222" text-anchor="middle" >10</text>
<text x="77.80" y="250.15" font-size="4.8" fill="#222" text-anchor="start" >1</text>
<line x1="87.69" y1="243.75" x2="87.69" y2="244.95" stroke="#222" stroke-width="0.5" />
<line x1="94.82" y1="243.75" x2="94.82" y2="244.95" stroke="#222" stroke-width="0.5" />
<line x1="99.88" y1="243.75" x2="99.88" y2="244.95" stroke="#222" stroke-width="0.5" />
<line x1="103.81" y1="243.75" x2="103.81" y2="244.95" stroke="#222" stroke-width="0.5" />
<line x1="107.02" y1="243.75" x2="107.02" y2="244.95" stroke="#222" stroke-width="0.5" />
<line x1="109.73" y1="243.75" x2="109.73" y2="244.95" stroke="#222" stroke-width="0.5" />
<line x1="112.08" y1="243.75" x2="112.08" y2="244.95" stroke="#222" stroke-width="0.5" />
<line x1="114.15" y1="243.75" x2="114.15" y2="244.95" stroke="#222" stroke-width="0.5" />
<line x1="116.00" y1="243.75" x2="116.00" y2="245.95" stroke="#222" stroke-width="0.6" />
<text x="114.50" y="253.75" font-size="6.7" fill="#222" text-anchor="middle" >10</text>
<text x="118.30" y="250.15" font-size="4.8" fill="#222" text-anchor="start" >2</text>
<text x="97.50" y="260.00" font-size="6.6" fill="#222" text-anchor="start" textLength="33" lengthAdjust="spacingAndGlyphs" >CD11bFITC</text>
<text x="74.50" y="180.00" font-size="12" fill="#111" text-anchor="start" stroke="#111" stroke-width="0.12" textLength="26.5" lengthAdjust="spacingAndGlyphs" >NB-4</text>
<path d="M33.00,357.00 L33.50,356.06 L34.20,354.81 L34.90,353.93 L35.60,353.27 L36.30,353.23 L37.00,351.61 L37.70,350.49 L38.40,349.56 L39.10,346.13 L39.80,347.63 L40.50,346.24 L41.20,346.48 L41.90,343.23 L42.60,339.72 L43.30,333.61 L44.00,334.70 L44.70,329.01 L45.40,326.09 L46.10,322.41 L46.80,318.83 L47.50,311.55 L48.20,314.44 L48.90,303.99 L49.60,300.81 L50.30,303.50 L51.00,304.80 L51.70,306.97 L52.40,292.88 L53.10,307.19 L53.80,294.59 L54.50,302.62 L55.20,307.39 L55.90,313.01 L56.60,307.93 L57.30,307.85 L58.00,319.56 L58.70,320.50 L59.40,317.92 L60.10,325.14 L60.80,322.75 L61.50,331.44 L62.20,332.38 L62.90,337.66 L63.60,334.29 L64.30,341.13 L65.00,344.66 L65.70,343.94 L66.40,347.30 L67.10,345.18 L67.80,347.77 L68.50,349.57 L69.20,350.36 L69.90,352.42 L70.60,353.10 L71.30,353.92 L72.00,354.55 L72.70,354.28 L73.40,355.70 L74.10,355.66 L74.80,357.00 L75.50,356.02 L76.20,356.37 L76.90,356.40 L77.60,356.54 L78.30,356.67 L79.00,356.76 L79.70,356.81 L80.40,356.85 L81.10,356.89 L81.80,356.92 L82.50,356.94 L83.20,356.96 L83.90,356.97 L84.60,356.98 L85.30,356.98 L86.00,356.99 L86.70,356.99 L87.40,356.99 L88.10,357.00 L88.80,357.00 L89.50,357.00 L90.20,357.00 L90.90,357.00 L91.60,357.00 L92.30,357.00 L93.00,357.00 L93.70,357.00 L94.40,357.00 L95.10,357.00 L95.80,357.00 L96.50,357.00 L97.20,357.00 L97.90,357.00 L98.60,357.00 L99.30,357.00 L100.00,357.00 L100.70,357.00 L101.40,357.00 L102.10,357.00 L102.80,357.00 L103.50,357.00 L104.20,357.00 L104.90,357.00 L105.60,357.00 L106.30,357.00 L107.00,357.00 L107.70,357.00 L108.40,357.00 L109.10,357.00 L109.80,357.00 L110.50,357.00 L111.20,357.00 L111.90,357.00 L112.60,357.00 L113.30,357.00 L114.00,357.00 L114.70,357.00 L115.40,357.00 L116.10,357.00 L116.80,357.00 L117.50,357.00 L118.20,357.00 L118.90,357.00 L119.60,357.00 L120.30,357.00 L121.00,357.00 L121.00,357.00 Z" fill="#6a7875" stroke="none"/>
<path d="M33.50,356.61 L34.20,356.59 L34.90,356.52 L35.60,356.47 L36.30,356.40 L37.00,356.27 L37.70,356.13 L38.40,355.86 L39.10,354.40 L39.80,354.83 L40.50,354.74 L41.20,354.30 L41.90,353.05 L42.60,352.54 L43.30,351.41 L44.00,350.82 L44.70,349.96 L45.40,349.33 L46.10,348.05 L46.80,346.98 L47.50,346.84 L48.20,346.63 L48.90,345.15 L49.60,342.73 L50.30,341.92 L51.00,339.93 L51.70,341.71 L52.40,339.16 L53.10,338.72 L53.80,337.60 L54.50,335.40 L55.20,335.45 L55.90,338.03 L56.60,336.09 L57.30,331.31 L58.00,333.86 L58.70,332.63 L59.40,329.14 L60.10,328.74 L60.80,329.03 L61.50,330.12 L62.20,322.58 L62.90,327.14 L63.60,325.89 L64.30,326.19 L65.00,329.34 L65.70,328.74 L66.40,325.81 L67.10,325.33 L67.80,327.02 L68.50,329.29 L69.20,330.76 L69.90,327.79 L70.60,331.64 L71.30,327.10 L72.00,327.51 L72.70,324.70 L73.40,330.52 L74.10,333.51 L74.80,335.48 L75.50,341.15 L76.20,337.47 L76.90,337.68 L77.60,336.94 L78.30,338.73 L79.00,340.33 L79.70,341.66 L80.40,342.77 L81.10,342.47 L81.80,346.61 L82.50,348.25 L83.20,347.78 L83.90,347.32 L84.60,349.21 L85.30,349.77 L86.00,351.86 L86.70,350.09 L87.40,351.82 L88.10,353.49 L88.80,352.81 L89.50,353.64 L90.20,352.88 L90.90,354.78 L91.60,355.94 L92.30,354.92 L93.00,355.40 L93.70,355.69 L94.40,356.70 L95.10,355.78 L95.80,355.89 L96.50,356.06 L97.20,356.21 L97.90,356.20 L98.60,356.35 L99.30,356.37 L100.00,356.43 L100.70,356.51 L101.40,356.54 L102.10,356.56 L102.80,356.59 L103.50,356.62 L104.20,356.62 L104.90,356.64 L105.60,356.65 L106.30,356.66 L107.00,356.67 L107.70,356.68 L108.40,356.68 L109.10,356.68 L109.80,356.69 L110.50,356.69 L111.20,356.69 L111.90,356.69 L112.60,356.70 L113.30,356.70 L114.00,356.70 L114.70,356.70 L115.40,356.70 L116.10,356.70 L116.80,356.70 L117.50,356.70 L118.20,356.70 L118.90,356.70 L119.60,356.70 L120.30,356.70 L121.00,356.70" fill="none" stroke="#e84848" stroke-width="1.1" stroke-opacity="0.85" stroke-linejoin="round"/>
<path d="M33.50,356.69 L34.20,356.68 L34.90,356.67 L35.60,356.66 L36.30,356.62 L37.00,356.59 L37.70,356.54 L38.40,356.46 L39.10,356.37 L39.80,356.22 L40.50,356.00 L41.20,355.59 L41.90,354.55 L42.60,354.26 L43.30,354.10 L44.00,353.02 L44.70,353.15 L45.40,349.43 L46.10,348.82 L46.80,346.38 L47.50,346.37 L48.20,344.56 L48.90,340.34 L49.60,339.02 L50.30,334.84 L51.00,337.40 L51.70,325.88 L52.40,321.67 L53.10,319.21 L53.80,314.33 L54.50,309.12 L55.20,312.53 L55.90,305.86 L56.60,311.53 L57.30,307.30 L58.00,302.82 L58.70,304.07 L59.40,313.13 L60.10,306.01 L60.80,310.05 L61.50,313.56 L62.20,309.23 L62.90,313.38 L63.60,320.09 L64.30,318.63 L65.00,312.50 L65.70,323.95 L66.40,320.71 L67.10,321.68 L67.80,325.26 L68.50,329.74 L69.20,330.35 L69.90,332.05 L70.60,333.26 L71.30,338.13 L72.00,340.50 L72.70,338.04 L73.40,340.28 L74.10,343.29 L74.80,345.42 L75.50,344.60 L76.20,347.27 L76.90,348.11 L77.60,349.30 L78.30,349.99 L79.00,351.23 L79.70,352.74 L80.40,353.49 L81.10,353.92 L81.80,354.14 L82.50,354.27 L83.20,354.63 L83.90,354.63 L84.60,355.06 L85.30,355.34 L86.00,355.62 L86.70,355.96 L87.40,356.12 L88.10,356.15 L88.80,356.25 L89.50,356.29 L90.20,356.41 L90.90,356.49 L91.60,356.51 L92.30,356.57 L93.00,356.60 L93.70,356.60 L94.40,356.63 L95.10,356.65 L95.80,356.66 L96.50,356.67 L97.20,356.68 L97.90,356.68 L98.60,356.69 L99.30,356.69 L100.00,356.69 L100.70,356.69 L101.40,356.70 L102.10,356.70 L102.80,356.70 L103.50,356.70 L104.20,356.70 L104.90,356.70 L105.60,356.70 L106.30,356.70 L107.00,356.70 L107.70,356.70 L108.40,356.70 L109.10,356.70 L109.80,356.70 L110.50,356.70 L111.20,356.70 L111.90,356.70 L112.60,356.70 L113.30,356.70 L114.00,356.70 L114.70,356.70 L115.40,356.70 L116.10,356.70 L116.80,356.70 L117.50,356.70 L118.20,356.70 L118.90,356.70 L119.60,356.70 L120.30,356.70 L121.00,356.70" fill="none" stroke="#4646d8" stroke-width="1.1" stroke-opacity="0.85" stroke-linejoin="round"/>
<path d="M33.50,356.67 L34.20,356.67 L34.90,356.66 L35.60,356.64 L36.30,356.62 L37.00,356.62 L37.70,356.61 L38.40,356.57 L39.10,356.54 L39.80,356.48 L40.50,356.41 L41.20,356.36 L41.90,356.30 L42.60,356.18 L43.30,356.12 L44.00,355.95 L44.70,355.83 L45.40,356.55 L46.10,354.79 L46.80,355.98 L47.50,355.35 L48.20,355.07 L48.90,354.07 L49.60,353.98 L50.30,353.49 L51.00,353.51 L51.70,352.40 L52.40,352.77 L53.10,351.30 L53.80,350.50 L54.50,349.32 L55.20,347.29 L55.90,346.27 L56.60,346.58 L57.30,344.31 L58.00,344.10 L58.70,342.51 L59.40,343.62 L60.10,343.12 L60.80,337.81 L61.50,335.86 L62.20,336.11 L62.90,334.26 L63.60,336.11 L64.30,334.92 L65.00,332.67 L65.70,329.38 L66.40,330.75 L67.10,330.12 L67.80,330.09 L68.50,328.45 L69.20,328.80 L69.90,330.76 L70.60,323.58 L71.30,327.15 L72.00,327.97 L72.70,324.57 L73.40,325.85 L74.10,330.52 L74.80,328.74 L75.50,333.23 L76.20,333.41 L76.90,337.07 L77.60,331.17 L78.30,338.02 L79.00,335.37 L79.70,338.45 L80.40,338.31 L81.10,340.19 L81.80,341.18 L82.50,340.83 L83.20,340.61 L83.90,343.44 L84.60,345.06 L85.30,346.17 L86.00,347.22 L86.70,348.82 L87.40,349.79 L88.10,350.10 L88.80,350.35 L89.50,351.01 L90.20,351.98 L90.90,352.30 L91.60,353.38 L92.30,352.98 L93.00,355.31 L93.70,355.55 L94.40,354.12 L95.10,356.29 L95.80,355.62 L96.50,355.57 L97.20,355.89 L97.90,355.76 L98.60,356.19 L99.30,356.11 L100.00,356.21 L100.70,356.32 L101.40,356.42 L102.10,356.46 L102.80,356.53 L103.50,356.54 L104.20,356.59 L104.90,356.61 L105.60,356.62 L106.30,356.65 L107.00,356.66 L107.70,356.67 L108.40,356.68 L109.10,356.68 L109.80,356.68 L110.50,356.69 L111.20,356.69 L111.90,356.69 L112.60,356.70 L113.30,356.70 L114.00,356.70 L114.70,356.70 L115.40,356.70 L116.10,356.70 L116.80,356.70 L117.50,356.70 L118.20,356.70 L118.90,356.70 L119.60,356.70 L120.30,356.70 L121.00,356.70" fill="none" stroke="#6ee8a0" stroke-width="1.1" stroke-opacity="0.85" stroke-linejoin="round"/>
<path d="M33.50,356.06 L34.20,354.81 L34.90,353.93 L35.60,353.27 L36.30,353.23 L37.00,351.61 L37.70,350.49 L38.40,349.56 L39.10,346.13 L39.80,347.63 L40.50,346.24 L41.20,346.48 L41.90,343.23 L42.60,339.72 L43.30,333.61 L44.00,334.70 L44.70,329.01 L45.40,326.09 L46.10,322.41 L46.80,318.83 L47.50,311.55 L48.20,314.44 L48.90,303.99 L49.60,300.81 L50.30,303.50 L51.00,304.80 L51.70,306.97 L52.40,292.88 L53.10,307.19 L53.80,294.59 L54.50,302.62 L55.20,307.39 L55.90,313.01 L56.60,307.93 L57.30,307.85 L58.00,319.56 L58.70,320.50 L59.40,317.92 L60.10,325.14 L60.80,322.75 L61.50,331.44 L62.20,332.38 L62.90,337.66 L63.60,334.29 L64.30,341.13 L65.00,344.66 L65.70,343.94 L66.40,347.30 L67.10,345.18 L67.80,347.77 L68.50,349.57 L69.20,350.36 L69.90,352.42 L70.60,353.10 L71.30,353.92 L72.00,354.55 L72.70,354.28 L73.40,355.70 L74.10,355.66 L74.80,357.00 L75.50,356.02 L76.20,356.37 L76.90,356.40 L77.60,356.54 L78.30,356.67 L79.00,356.76 L79.70,356.81 L80.40,356.85 L81.10,356.89 L81.80,356.92 L82.50,356.94 L83.20,356.96 L83.90,356.97 L84.60,356.98 L85.30,356.98 L86.00,356.99 L86.70,356.99 L87.40,356.99 L88.10,357.00 L88.80,357.00 L89.50,357.00 L90.20,357.00 L90.90,357.00 L91.60,357.00 L92.30,357.00 L93.00,357.00 L93.70,357.00 L94.40,357.00 L95.10,357.00 L95.80,357.00 L96.50,357.00 L97.20,357.00 L97.90,357.00 L98.60,357.00 L99.30,357.00 L100.00,357.00 L100.70,357.00 L101.40,357.00 L102.10,357.00 L102.80,357.00 L103.50,357.00 L104.20,357.00 L104.90,357.00 L105.60,357.00 L106.30,357.00 L107.00,357.00 L107.70,357.00 L108.40,357.00 L109.10,357.00 L109.80,357.00 L110.50,357.00 L111.20,357.00 L111.90,357.00 L112.60,357.00 L113.30,357.00 L114.00,357.00 L114.70,357.00 L115.40,357.00 L116.10,357.00 L116.80,357.00 L117.50,357.00 L118.20,357.00 L118.90,357.00 L119.60,357.00 L120.30,357.00 L121.00,357.00" fill="none" stroke="#111" stroke-width="0.9" stroke-linejoin="round"/>
<line x1="33.00" y1="277.50" x2="33.00" y2="357.00" stroke="#222" stroke-width="0.8" />
<line x1="33.00" y1="357.00" x2="121.00" y2="357.00" stroke="#222" stroke-width="0.8" />
<line x1="31.00" y1="357.00" x2="33.00" y2="357.00" stroke="#222" stroke-width="0.6" />
<text x="29.80" y="357.00" font-size="5.6" fill="#333" text-anchor="middle" transform="rotate(-90 29.80 357.00)" >0</text>
<line x1="31.00" y1="339.60" x2="33.00" y2="339.60" stroke="#222" stroke-width="0.6" />
<text x="29.80" y="339.60" font-size="5.6" fill="#333" text-anchor="middle" transform="rotate(-90 29.80 339.60)" >30</text>
<line x1="31.00" y1="322.20" x2="33.00" y2="322.20" stroke="#222" stroke-width="0.6" />
<text x="29.80" y="322.20" font-size="5.6" fill="#333" text-anchor="middle" transform="rotate(-90 29.80 322.20)" >60</text>
<line x1="31.00" y1="304.80" x2="33.00" y2="304.80" stroke="#222" stroke-width="0.6" />
<text x="29.80" y="304.80" font-size="5.6" fill="#333" text-anchor="middle" transform="rotate(-90 29.80 304.80)" >90</text>
<line x1="31.00" y1="287.40" x2="33.00" y2="287.40" stroke="#222" stroke-width="0.6" />
<text x="29.80" y="287.40" font-size="5.6" fill="#333" text-anchor="middle" transform="rotate(-90 29.80 287.40)" >120</text>
<line x1="31.80" y1="353.52" x2="33.00" y2="353.52" stroke="#222" stroke-width="0.5" />
<line x1="31.80" y1="350.04" x2="33.00" y2="350.04" stroke="#222" stroke-width="0.5" />
<line x1="31.80" y1="346.56" x2="33.00" y2="346.56" stroke="#222" stroke-width="0.5" />
<line x1="31.80" y1="343.08" x2="33.00" y2="343.08" stroke="#222" stroke-width="0.5" />
<line x1="31.80" y1="336.12" x2="33.00" y2="336.12" stroke="#222" stroke-width="0.5" />
<line x1="31.80" y1="332.64" x2="33.00" y2="332.64" stroke="#222" stroke-width="0.5" />
<line x1="31.80" y1="329.16" x2="33.00" y2="329.16" stroke="#222" stroke-width="0.5" />
<line x1="31.80" y1="325.68" x2="33.00" y2="325.68" stroke="#222" stroke-width="0.5" />
<line x1="31.80" y1="318.72" x2="33.00" y2="318.72" stroke="#222" stroke-width="0.5" />
<line x1="31.80" y1="315.24" x2="33.00" y2="315.24" stroke="#222" stroke-width="0.5" />
<line x1="31.80" y1="311.76" x2="33.00" y2="311.76" stroke="#222" stroke-width="0.5" />
<line x1="31.80" y1="308.28" x2="33.00" y2="308.28" stroke="#222" stroke-width="0.5" />
<line x1="31.80" y1="301.32" x2="33.00" y2="301.32" stroke="#222" stroke-width="0.5" />
<line x1="31.80" y1="297.84" x2="33.00" y2="297.84" stroke="#222" stroke-width="0.5" />
<line x1="31.80" y1="294.36" x2="33.00" y2="294.36" stroke="#222" stroke-width="0.5" />
<line x1="31.80" y1="290.88" x2="33.00" y2="290.88" stroke="#222" stroke-width="0.5" />
<text x="21.20" y="326.00" font-size="5.6" fill="#222" text-anchor="middle" transform="rotate(-90 21.20 326.00)" >Counts</text>
<line x1="33.00" y1="357.00" x2="33.00" y2="359.20" stroke="#222" stroke-width="0.6" />
<text x="31.50" y="367.40" font-size="6.7" fill="#222" text-anchor="middle" >10</text>
<text x="35.30" y="363.80" font-size="4.8" fill="#222" text-anchor="start" >0</text>
<line x1="43.69" y1="357.00" x2="43.69" y2="358.20" stroke="#222" stroke-width="0.5" />
<line x1="49.94" y1="357.00" x2="49.94" y2="358.20" stroke="#222" stroke-width="0.5" />
<line x1="54.37" y1="357.00" x2="54.37" y2="358.20" stroke="#222" stroke-width="0.5" />
<line x1="57.81" y1="357.00" x2="57.81" y2="358.20" stroke="#222" stroke-width="0.5" />
<line x1="60.62" y1="357.00" x2="60.62" y2="358.20" stroke="#222" stroke-width="0.5" />
<line x1="63.00" y1="357.00" x2="63.00" y2="358.20" stroke="#222" stroke-width="0.5" />
<line x1="65.06" y1="357.00" x2="65.06" y2="358.20" stroke="#222" stroke-width="0.5" />
<line x1="66.88" y1="357.00" x2="66.88" y2="358.20" stroke="#222" stroke-width="0.5" />
<line x1="68.50" y1="357.00" x2="68.50" y2="359.20" stroke="#222" stroke-width="0.6" />
<text x="67.00" y="367.40" font-size="6.7" fill="#222" text-anchor="middle" >10</text>
<text x="70.80" y="363.80" font-size="4.8" fill="#222" text-anchor="start" >1</text>
<line x1="79.19" y1="357.00" x2="79.19" y2="358.20" stroke="#222" stroke-width="0.5" />
<line x1="85.44" y1="357.00" x2="85.44" y2="358.20" stroke="#222" stroke-width="0.5" />
<line x1="89.87" y1="357.00" x2="89.87" y2="358.20" stroke="#222" stroke-width="0.5" />
<line x1="93.31" y1="357.00" x2="93.31" y2="358.20" stroke="#222" stroke-width="0.5" />
<line x1="96.12" y1="357.00" x2="96.12" y2="358.20" stroke="#222" stroke-width="0.5" />
<line x1="98.50" y1="357.00" x2="98.50" y2="358.20" stroke="#222" stroke-width="0.5" />
<line x1="100.56" y1="357.00" x2="100.56" y2="358.20" stroke="#222" stroke-width="0.5" />
<line x1="102.38" y1="357.00" x2="102.38" y2="358.20" stroke="#222" stroke-width="0.5" />
<line x1="104.00" y1="357.00" x2="104.00" y2="359.20" stroke="#222" stroke-width="0.6" />
<text x="102.50" y="367.40" font-size="6.7" fill="#222" text-anchor="middle" >10</text>
<text x="106.30" y="363.80" font-size="4.8" fill="#222" text-anchor="start" >2</text>
<text x="88.00" y="373.20" font-size="6.6" fill="#222" text-anchor="start" textLength="35.3" lengthAdjust="spacingAndGlyphs" >FL1-Height</text>
<text x="62.50" y="294.50" font-size="12" fill="#111" text-anchor="start" stroke="#111" stroke-width="0.12" textLength="45" lengthAdjust="spacingAndGlyphs" >Kasumi-1</text>
<path d="M303.00,129.50 L303.50,127.96 L304.20,128.04 L304.90,125.56 L305.60,126.04 L306.30,124.26 L307.00,118.37 L307.70,117.07 L308.40,106.96 L309.10,103.84 L309.80,97.70 L310.50,90.88 L311.20,85.11 L311.90,79.71 L312.60,82.63 L313.30,83.77 L314.00,85.92 L314.70,82.98 L315.40,89.64 L316.10,99.00 L316.80,102.33 L317.50,103.77 L318.20,110.00 L318.90,112.65 L319.60,115.84 L320.30,116.71 L321.00,118.46 L321.70,118.28 L322.40,118.65 L323.10,118.78 L323.80,120.91 L324.50,118.21 L325.20,120.42 L325.90,119.04 L326.60,120.37 L327.30,122.23 L328.00,118.36 L328.70,117.31 L329.40,117.17 L330.10,119.32 L330.80,115.63 L331.50,117.98 L332.20,116.57 L332.90,120.58 L333.60,116.24 L334.30,117.28 L335.00,116.07 L335.70,116.19 L336.40,117.90 L337.10,115.54 L337.80,116.00 L338.50,115.43 L339.20,115.94 L339.90,116.56 L340.60,118.74 L341.30,120.35 L342.00,121.27 L342.70,118.43 L343.40,119.62 L344.10,122.21 L344.80,122.05 L345.50,121.98 L346.20,122.93 L346.90,124.45 L347.60,123.90 L348.30,124.31 L349.00,126.08 L349.70,126.82 L350.40,126.83 L351.10,126.46 L351.80,126.38 L352.50,127.31 L353.20,128.64 L353.90,128.54 L354.60,128.96 L355.30,128.69 L356.00,128.66 L356.70,128.87 L357.40,128.90 L358.10,129.14 L358.80,129.20 L359.50,129.24 L360.20,129.32 L360.90,129.38 L361.60,129.40 L362.30,129.41 L363.00,129.43 L363.70,129.45 L364.40,129.46 L365.10,129.47 L365.80,129.48 L366.50,129.49 L367.20,129.49 L367.90,129.49 L368.60,129.49 L369.30,129.50 L370.00,129.50 L370.70,129.50 L371.40,129.50 L372.10,129.50 L372.80,129.50 L373.50,129.50 L374.20,129.50 L374.90,129.50 L375.60,129.50 L376.30,129.50 L377.00,129.50 L377.70,129.50 L378.40,129.50 L379.10,129.50 L379.80,129.50 L380.50,129.50 L380.50,129.50 Z" fill="#6a7875" stroke="none"/>
<path d="M303.50,127.43 L304.20,127.10 L304.90,124.45 L305.60,122.55 L306.30,117.34 L307.00,116.44 L307.70,111.28 L308.40,106.10 L309.10,97.07 L309.80,95.18 L310.50,80.98 L311.20,78.18 L311.90,80.97 L312.60,89.72 L313.30,86.82 L314.00,92.33 L314.70,88.56 L315.40,95.82 L316.10,98.85 L316.80,105.64 L317.50,111.82 L318.20,112.92 L318.90,115.67 L319.60,115.81 L320.30,117.29 L321.00,118.35 L321.70,119.43 L322.40,117.89 L323.10,120.83 L323.80,120.74 L324.50,118.49 L325.20,120.26 L325.90,119.60 L326.60,117.85 L327.30,116.51 L328.00,118.81 L328.70,119.27 L329.40,117.37 L330.10,117.05 L330.80,117.94 L331.50,117.40 L332.20,114.42 L332.90,114.97 L333.60,115.22 L334.30,114.50 L335.00,111.82 L335.70,110.97 L336.40,108.97 L337.10,111.09 L337.80,107.79 L338.50,108.68 L339.20,109.55 L339.90,109.80 L340.60,110.61 L341.30,108.48 L342.00,109.82 L342.70,111.35 L343.40,112.15 L344.10,112.25 L344.80,115.56 L345.50,113.29 L346.20,117.66 L346.90,118.47 L347.60,118.84 L348.30,121.14 L349.00,123.08 L349.70,122.45 L350.40,125.30 L351.10,125.24 L351.80,126.39 L352.50,127.23 L353.20,127.44 L353.90,126.93 L354.60,127.63 L355.30,128.46 L356.00,128.60 L356.70,128.73 L357.40,128.88 L358.10,129.00 L358.80,129.04 L359.50,129.09 L360.20,129.12 L360.90,129.15 L361.60,129.16 L362.30,129.18 L363.00,129.19 L363.70,129.19 L364.40,129.19 L365.10,129.20 L365.80,129.20 L366.50,129.20 L367.20,129.20 L367.90,129.20 L368.60,129.20 L369.30,129.20 L370.00,129.20 L370.70,129.20 L371.40,129.20 L372.10,129.20 L372.80,129.20 L373.50,129.20 L374.20,129.20 L374.90,129.20 L375.60,129.20 L376.30,129.20 L377.00,129.20 L377.70,129.20 L378.40,129.20 L379.10,129.20 L379.80,129.20 L380.50,129.20" fill="none" stroke="#e84848" stroke-width="1.1" stroke-opacity="0.85" stroke-linejoin="round"/>
<path d="M303.50,128.92 L304.20,128.77 L304.90,128.58 L305.60,128.18 L306.30,127.07 L307.00,128.88 L307.70,126.85 L308.40,127.41 L309.10,124.73 L309.80,122.71 L310.50,123.29 L311.20,118.75 L311.90,116.56 L312.60,114.14 L313.30,111.54 L314.00,109.86 L314.70,104.65 L315.40,107.52 L316.10,100.56 L316.80,92.13 L317.50,96.29 L318.20,93.26 L318.90,95.63 L319.60,97.82 L320.30,94.41 L321.00,93.04 L321.70,99.22 L322.40,94.69 L323.10,93.35 L323.80,93.80 L324.50,102.61 L325.20,101.35 L325.90,103.81 L326.60,95.87 L327.30,99.22 L328.00,96.65 L328.70,101.86 L329.40,102.34 L330.10,98.71 L330.80,99.41 L331.50,102.12 L332.20,99.08 L332.90,98.19 L333.60,101.90 L334.30,106.88 L335.00,109.58 L335.70,108.40 L336.40,107.64 L337.10,111.53 L337.80,114.08 L338.50,114.85 L339.20,113.80 L339.90,117.83 L340.60,116.72 L341.30,119.68 L342.00,118.72 L342.70,119.42 L343.40,121.56 L344.10,120.80 L344.80,119.96 L345.50,118.25 L346.20,119.70 L346.90,119.71 L347.60,121.96 L348.30,122.72 L349.00,123.79 L349.70,124.10 L350.40,123.23 L351.10,125.78 L351.80,124.56 L352.50,125.29 L353.20,124.52 L353.90,126.13 L354.60,127.24 L355.30,126.90 L356.00,128.38 L356.70,128.31 L357.40,128.24 L358.10,128.52 L358.80,128.65 L359.50,128.81 L360.20,128.84 L360.90,129.01 L361.60,129.03 L362.30,129.04 L363.00,129.11 L363.70,129.14 L364.40,129.16 L365.10,129.17 L365.80,129.18 L366.50,129.19 L367.20,129.19 L367.90,129.19 L368.60,129.20 L369.30,129.20 L370.00,129.20 L370.70,129.20 L371.40,129.20 L372.10,129.20 L372.80,129.20 L373.50,129.20 L374.20,129.20 L374.90,129.20 L375.60,129.20 L376.30,129.20 L377.00,129.20 L377.70,129.20 L378.40,129.20 L379.10,129.20 L379.80,129.20 L380.50,129.20" fill="none" stroke="#4646d8" stroke-width="1.1" stroke-opacity="0.85" stroke-linejoin="round"/>
<path d="M303.50,128.53 L304.20,127.66 L304.90,127.40 L305.60,126.53 L306.30,125.36 L307.00,124.14 L307.70,121.30 L308.40,121.89 L309.10,121.13 L309.80,119.66 L310.50,121.21 L311.20,120.31 L311.90,120.00 L312.60,120.84 L313.30,118.25 L314.00,116.34 L314.70,118.68 L315.40,116.37 L316.10,117.22 L316.80,117.55 L317.50,115.77 L318.20,115.27 L318.90,112.02 L319.60,117.37 L320.30,113.94 L321.00,113.95 L321.70,119.27 L322.40,118.26 L323.10,116.58 L323.80,118.57 L324.50,117.93 L325.20,118.87 L325.90,120.51 L326.60,121.19 L327.30,122.56 L328.00,120.94 L328.70,121.92 L329.40,120.34 L330.10,120.09 L330.80,121.60 L331.50,118.30 L332.20,119.27 L332.90,118.68 L333.60,119.56 L334.30,118.15 L335.00,117.37 L335.70,114.71 L336.40,115.64 L337.10,112.24 L337.80,110.27 L338.50,107.76 L339.20,109.24 L339.90,103.36 L340.60,105.66 L341.30,111.82 L342.00,106.11 L342.70,103.76 L343.40,99.59 L344.10,104.61 L344.80,103.14 L345.50,106.56 L346.20,104.14 L346.90,107.69 L347.60,109.96 L348.30,112.39 L349.00,113.53 L349.70,116.13 L350.40,120.27 L351.10,117.58 L351.80,122.17 L352.50,122.74 L353.20,124.92 L353.90,125.38 L354.60,126.94 L355.30,126.70 L356.00,127.92 L356.70,127.96 L357.40,128.36 L358.10,128.69 L358.80,128.83 L359.50,128.99 L360.20,129.09 L360.90,129.10 L361.60,129.15 L362.30,129.17 L363.00,129.18 L363.70,129.19 L364.40,129.19 L365.10,129.20 L365.80,129.20 L366.50,129.20 L367.20,129.20 L367.90,129.20 L368.60,129.20 L369.30,129.20 L370.00,129.20 L370.70,129.20 L371.40,129.20 L372.10,129.20 L372.80,129.20 L373.50,129.20 L374.20,129.20 L374.90,129.20 L375.60,129.20 L376.30,129.20 L377.00,129.20 L377.70,129.20 L378.40,129.20 L379.10,129.20 L379.80,129.20 L380.50,129.20" fill="none" stroke="#6ee8a0" stroke-width="1.1" stroke-opacity="0.85" stroke-linejoin="round"/>
<path d="M303.50,127.96 L304.20,128.04 L304.90,125.56 L305.60,126.04 L306.30,124.26 L307.00,118.37 L307.70,117.07 L308.40,106.96 L309.10,103.84 L309.80,97.70 L310.50,90.88 L311.20,85.11 L311.90,79.71 L312.60,82.63 L313.30,83.77 L314.00,85.92 L314.70,82.98 L315.40,89.64 L316.10,99.00 L316.80,102.33 L317.50,103.77 L318.20,110.00 L318.90,112.65 L319.60,115.84 L320.30,116.71 L321.00,118.46 L321.70,118.28 L322.40,118.65 L323.10,118.78 L323.80,120.91 L324.50,118.21 L325.20,120.42 L325.90,119.04 L326.60,120.37 L327.30,122.23 L328.00,118.36 L328.70,117.31 L329.40,117.17 L330.10,119.32 L330.80,115.63 L331.50,117.98 L332.20,116.57 L332.90,120.58 L333.60,116.24 L334.30,117.28 L335.00,116.07 L335.70,116.19 L336.40,117.90 L337.10,115.54 L337.80,116.00 L338.50,115.43 L339.20,115.94 L339.90,116.56 L340.60,118.74 L341.30,120.35 L342.00,121.27 L342.70,118.43 L343.40,119.62 L344.10,122.21 L344.80,122.05 L345.50,121.98 L346.20,122.93 L346.90,124.45 L347.60,123.90 L348.30,124.31 L349.00,126.08 L349.70,126.82 L350.40,126.83 L351.10,126.46 L351.80,126.38 L352.50,127.31 L353.20,128.64 L353.90,128.54 L354.60,128.96 L355.30,128.69 L356.00,128.66 L356.70,128.87 L357.40,128.90 L358.10,129.14 L358.80,129.20 L359.50,129.24 L360.20,129.32 L360.90,129.38 L361.60,129.40 L362.30,129.41 L363.00,129.43 L363.70,129.45 L364.40,129.46 L365.10,129.47 L365.80,129.48 L366.50,129.49 L367.20,129.49 L367.90,129.49 L368.60,129.49 L369.30,129.50 L370.00,129.50 L370.70,129.50 L371.40,129.50 L372.10,129.50 L372.80,129.50 L373.50,129.50 L374.20,129.50 L374.90,129.50 L375.60,129.50 L376.30,129.50 L377.00,129.50 L377.70,129.50 L378.40,129.50 L379.10,129.50 L379.80,129.50 L380.50,129.50" fill="none" stroke="#111" stroke-width="0.9" stroke-linejoin="round"/>
<line x1="303.00" y1="52.50" x2="303.00" y2="129.50" stroke="#222" stroke-width="0.8" />
<line x1="303.00" y1="129.50" x2="381.00" y2="129.50" stroke="#222" stroke-width="0.8" />
<line x1="301.00" y1="129.50" x2="303.00" y2="129.50" stroke="#222" stroke-width="0.6" />
<text x="299.80" y="129.50" font-size="5.6" fill="#333" text-anchor="middle" transform="rotate(-90 299.80 129.50)" >0</text>
<line x1="301.00" y1="113.00" x2="303.00" y2="113.00" stroke="#222" stroke-width="0.6" />
<text x="299.80" y="113.00" font-size="5.6" fill="#333" text-anchor="middle" transform="rotate(-90 299.80 113.00)" >10</text>
<line x1="301.00" y1="96.50" x2="303.00" y2="96.50" stroke="#222" stroke-width="0.6" />
<text x="299.80" y="96.50" font-size="5.6" fill="#333" text-anchor="middle" transform="rotate(-90 299.80 96.50)" >20</text>
<line x1="301.00" y1="80.00" x2="303.00" y2="80.00" stroke="#222" stroke-width="0.6" />
<text x="299.80" y="80.00" font-size="5.6" fill="#333" text-anchor="middle" transform="rotate(-90 299.80 80.00)" >30</text>
<line x1="301.00" y1="63.50" x2="303.00" y2="63.50" stroke="#222" stroke-width="0.6" />
<text x="299.80" y="63.50" font-size="5.6" fill="#333" text-anchor="middle" transform="rotate(-90 299.80 63.50)" >40</text>
<line x1="301.80" y1="126.20" x2="303.00" y2="126.20" stroke="#222" stroke-width="0.5" />
<line x1="301.80" y1="122.90" x2="303.00" y2="122.90" stroke="#222" stroke-width="0.5" />
<line x1="301.80" y1="119.60" x2="303.00" y2="119.60" stroke="#222" stroke-width="0.5" />
<line x1="301.80" y1="116.30" x2="303.00" y2="116.30" stroke="#222" stroke-width="0.5" />
<line x1="301.80" y1="109.70" x2="303.00" y2="109.70" stroke="#222" stroke-width="0.5" />
<line x1="301.80" y1="106.40" x2="303.00" y2="106.40" stroke="#222" stroke-width="0.5" />
<line x1="301.80" y1="103.10" x2="303.00" y2="103.10" stroke="#222" stroke-width="0.5" />
<line x1="301.80" y1="99.80" x2="303.00" y2="99.80" stroke="#222" stroke-width="0.5" />
<line x1="301.80" y1="93.20" x2="303.00" y2="93.20" stroke="#222" stroke-width="0.5" />
<line x1="301.80" y1="89.90" x2="303.00" y2="89.90" stroke="#222" stroke-width="0.5" />
<line x1="301.80" y1="86.60" x2="303.00" y2="86.60" stroke="#222" stroke-width="0.5" />
<line x1="301.80" y1="83.30" x2="303.00" y2="83.30" stroke="#222" stroke-width="0.5" />
<line x1="301.80" y1="76.70" x2="303.00" y2="76.70" stroke="#222" stroke-width="0.5" />
<line x1="301.80" y1="73.40" x2="303.00" y2="73.40" stroke="#222" stroke-width="0.5" />
<line x1="301.80" y1="70.10" x2="303.00" y2="70.10" stroke="#222" stroke-width="0.5" />
<line x1="301.80" y1="66.80" x2="303.00" y2="66.80" stroke="#222" stroke-width="0.5" />
<text x="292.50" y="92.50" font-size="5.6" fill="#222" text-anchor="middle" transform="rotate(-90 292.50 92.50)" >Counts</text>
<line x1="303.00" y1="129.50" x2="303.00" y2="131.70" stroke="#222" stroke-width="0.6" />
<text x="303.30" y="139.20" font-size="6.7" fill="#222" text-anchor="middle" >10</text>
<text x="307.10" y="135.60" font-size="4.8" fill="#222" text-anchor="start" >0</text>
<line x1="309.92" y1="129.50" x2="309.92" y2="130.70" stroke="#222" stroke-width="0.5" />
<line x1="313.97" y1="129.50" x2="313.97" y2="130.70" stroke="#222" stroke-width="0.5" />
<line x1="316.85" y1="129.50" x2="316.85" y2="130.70" stroke="#222" stroke-width="0.5" />
<line x1="319.08" y1="129.50" x2="319.08" y2="130.70" stroke="#222" stroke-width="0.5" />
<line x1="320.90" y1="129.50" x2="320.90" y2="130.70" stroke="#222" stroke-width="0.5" />
<line x1="322.44" y1="129.50" x2="322.44" y2="130.70" stroke="#222" stroke-width="0.5" />
<line x1="323.77" y1="129.50" x2="323.77" y2="130.70" stroke="#222" stroke-width="0.5" />
<line x1="324.95" y1="129.50" x2="324.95" y2="130.70" stroke="#222" stroke-width="0.5" />
<line x1="326.00" y1="129.50" x2="326.00" y2="131.70" stroke="#222" stroke-width="0.6" />
<text x="326.30" y="139.20" font-size="6.7" fill="#222" text-anchor="middle" >10</text>
<text x="330.10" y="135.60" font-size="4.8" fill="#222" text-anchor="start" >1</text>
<line x1="333.07" y1="129.50" x2="333.07" y2="130.70" stroke="#222" stroke-width="0.5" />
<line x1="337.21" y1="129.50" x2="337.21" y2="130.70" stroke="#222" stroke-width="0.5" />
<line x1="340.15" y1="129.50" x2="340.15" y2="130.70" stroke="#222" stroke-width="0.5" />
<line x1="342.43" y1="129.50" x2="342.43" y2="130.70" stroke="#222" stroke-width="0.5" />
<line x1="344.29" y1="129.50" x2="344.29" y2="130.70" stroke="#222" stroke-width="0.5" />
<line x1="345.86" y1="129.50" x2="345.86" y2="130.70" stroke="#222" stroke-width="0.5" />
<line x1="347.22" y1="129.50" x2="347.22" y2="130.70" stroke="#222" stroke-width="0.5" />
<line x1="348.42" y1="129.50" x2="348.42" y2="130.70" stroke="#222" stroke-width="0.5" />
<line x1="349.50" y1="129.50" x2="349.50" y2="131.70" stroke="#222" stroke-width="0.6" />
<text x="349.80" y="139.20" font-size="6.7" fill="#222" text-anchor="middle" >10</text>
<text x="353.60" y="135.60" font-size="4.8" fill="#222" text-anchor="start" >2</text>
<line x1="356.57" y1="129.50" x2="356.57" y2="130.70" stroke="#222" stroke-width="0.5" />
<line x1="360.71" y1="129.50" x2="360.71" y2="130.70" stroke="#222" stroke-width="0.5" />
<line x1="363.65" y1="129.50" x2="363.65" y2="130.70" stroke="#222" stroke-width="0.5" />
<line x1="365.93" y1="129.50" x2="365.93" y2="130.70" stroke="#222" stroke-width="0.5" />
<line x1="367.79" y1="129.50" x2="367.79" y2="130.70" stroke="#222" stroke-width="0.5" />
<line x1="369.36" y1="129.50" x2="369.36" y2="130.70" stroke="#222" stroke-width="0.5" />
<line x1="370.72" y1="129.50" x2="370.72" y2="130.70" stroke="#222" stroke-width="0.5" />
<line x1="371.92" y1="129.50" x2="371.92" y2="130.70" stroke="#222" stroke-width="0.5" />
<line x1="373.00" y1="129.50" x2="373.00" y2="131.70" stroke="#222" stroke-width="0.6" />
<text x="373.30" y="139.20" font-size="6.7" fill="#222" text-anchor="middle" >10</text>
<text x="377.10" y="135.60" font-size="4.8" fill="#222" text-anchor="start" >3</text>
<text x="335.10" y="145.30" font-size="6.6" fill="#222" text-anchor="start" textLength="31.2" lengthAdjust="spacingAndGlyphs" >FL1-Height</text>
<text x="330.80" y="66.30" font-size="12" fill="#111" text-anchor="start" stroke="#111" stroke-width="0.12" textLength="44.2" lengthAdjust="spacingAndGlyphs" >AML M2</text>
<path d="M302.50,244.50 L303.00,180.33 L303.70,187.55 L304.40,184.05 L305.10,179.55 L305.80,184.61 L306.50,184.89 L307.20,189.02 L307.90,186.84 L308.60,189.80 L309.30,185.30 L310.00,191.79 L310.70,195.57 L311.40,205.05 L312.10,195.70 L312.80,198.60 L313.50,206.54 L314.20,211.09 L314.90,210.89 L315.60,205.68 L316.30,213.82 L317.00,213.03 L317.70,212.84 L318.40,214.32 L319.10,217.42 L319.80,219.77 L320.50,222.59 L321.20,219.65 L321.90,221.98 L322.60,224.53 L323.30,229.24 L324.00,227.95 L324.70,226.69 L325.40,230.19 L326.10,229.36 L326.80,231.23 L327.50,232.88 L328.20,232.35 L328.90,233.36 L329.60,234.94 L330.30,234.07 L331.00,233.96 L331.70,237.09 L332.40,236.47 L333.10,237.87 L333.80,238.90 L334.50,239.21 L335.20,240.01 L335.90,238.82 L336.60,239.66 L337.30,238.70 L338.00,239.64 L338.70,240.13 L339.40,241.71 L340.10,241.09 L340.80,241.43 L341.50,242.63 L342.20,241.92 L342.90,241.88 L343.60,242.70 L344.30,241.77 L345.00,242.37 L345.70,243.81 L346.40,243.29 L347.10,244.10 L347.80,243.60 L348.50,243.69 L349.20,243.82 L349.90,243.87 L350.60,243.99 L351.30,244.04 L352.00,244.15 L352.70,244.16 L353.40,244.23 L354.10,244.26 L354.80,244.29 L355.50,244.31 L356.20,244.37 L356.90,244.39 L357.60,244.39 L358.30,244.40 L359.00,244.42 L359.70,244.43 L360.40,244.44 L361.10,244.45 L361.80,244.46 L362.50,244.47 L363.20,244.48 L363.90,244.48 L364.60,244.48 L365.30,244.49 L366.00,244.49 L366.70,244.49 L367.40,244.49 L368.10,244.49 L368.80,244.50 L369.50,244.50 L370.20,244.50 L370.90,244.50 L371.60,244.50 L372.30,244.50 L373.00,244.50 L373.70,244.50 L374.40,244.50 L375.10,244.50 L375.80,244.50 L376.50,244.50 L377.20,244.50 L377.90,244.50 L378.60,244.50 L379.30,244.50 L379.30,244.50 Z" fill="#6a7875" stroke="none"/>
<path d="M303.00,185.39 L303.70,188.58 L304.40,188.70 L305.10,172.40 L305.80,195.37 L306.50,186.02 L307.20,179.37 L307.90,186.04 L308.60,192.32 L309.30,190.55 L310.00,188.02 L310.70,189.49 L311.40,199.44 L312.10,195.47 L312.80,199.54 L313.50,197.78 L314.20,199.93 L314.90,207.08 L315.60,213.31 L316.30,209.55 L317.00,209.38 L317.70,213.63 L318.40,216.81 L319.10,213.83 L319.80,222.78 L320.50,221.37 L321.20,224.99 L321.90,226.10 L322.60,227.45 L323.30,227.15 L324.00,231.86 L324.70,232.83 L325.40,234.56 L326.10,234.38 L326.80,235.64 L327.50,235.59 L328.20,237.47 L328.90,238.59 L329.60,239.24 L330.30,239.66 L331.00,240.02 L331.70,239.86 L332.40,241.46 L333.10,242.02 L333.80,241.31 L334.50,242.51 L335.20,242.50 L335.90,241.99 L336.60,242.27 L337.30,242.99 L338.00,243.38 L338.70,243.40 L339.40,243.55 L340.10,243.68 L340.80,243.76 L341.50,243.82 L342.20,243.91 L342.90,243.95 L343.60,244.00 L344.30,244.06 L345.00,244.07 L345.70,244.08 L346.40,244.11 L347.10,244.13 L347.80,244.14 L348.50,244.15 L349.20,244.16 L349.90,244.17 L350.60,244.18 L351.30,244.19 L352.00,244.19 L352.70,244.19 L353.40,244.19 L354.10,244.19 L354.80,244.19 L355.50,244.20 L356.20,244.20 L356.90,244.20 L357.60,244.20 L358.30,244.20 L359.00,244.20 L359.70,244.20 L360.40,244.20 L361.10,244.20 L361.80,244.20 L362.50,244.20 L363.20,244.20 L363.90,244.20 L364.60,244.20 L365.30,244.20 L366.00,244.20 L366.70,244.20 L367.40,244.20 L368.10,244.20 L368.80,244.20 L369.50,244.20 L370.20,244.20 L370.90,244.20 L371.60,244.20 L372.30,244.20 L373.00,244.20 L373.70,244.20 L374.40,244.20 L375.10,244.20 L375.80,244.20 L376.50,244.20 L377.20,244.20 L377.90,244.20 L378.60,244.20 L379.30,244.20" fill="none" stroke="#e84848" stroke-width="1.1" stroke-opacity="0.85" stroke-linejoin="round"/>
<path d="M303.00,207.60 L303.70,203.26 L304.40,204.44 L305.10,205.39 L305.80,205.12 L306.50,205.24 L307.20,213.28 L307.90,211.70 L308.60,215.48 L309.30,212.20 L310.00,215.21 L310.70,212.68 L311.40,215.54 L312.10,219.14 L312.80,219.48 L313.50,221.67 L314.20,218.28 L314.90,216.97 L315.60,218.66 L316.30,221.50 L317.00,218.98 L317.70,216.61 L318.40,217.22 L319.10,212.91 L319.80,219.12 L320.50,213.72 L321.20,218.34 L321.90,217.79 L322.60,220.06 L323.30,219.35 L324.00,224.62 L324.70,225.32 L325.40,230.52 L326.10,230.85 L326.80,230.69 L327.50,234.19 L328.20,236.63 L328.90,237.40 L329.60,237.93 L330.30,239.04 L331.00,239.27 L331.70,241.30 L332.40,242.58 L333.10,242.53 L333.80,243.88 L334.50,242.89 L335.20,241.69 L335.90,242.00 L336.60,241.90 L337.30,240.73 L338.00,241.96 L338.70,240.58 L339.40,238.26 L340.10,238.47 L340.80,237.76 L341.50,235.57 L342.20,236.02 L342.90,236.08 L343.60,235.40 L344.30,235.92 L345.00,236.22 L345.70,233.57 L346.40,235.07 L347.10,235.69 L347.80,235.82 L348.50,237.02 L349.20,236.94 L349.90,235.63 L350.60,238.95 L351.30,240.26 L352.00,238.91 L352.70,240.27 L353.40,241.03 L354.10,241.05 L354.80,240.63 L355.50,242.33 L356.20,242.40 L356.90,244.19 L357.60,243.30 L358.30,243.42 L359.00,243.50 L359.70,243.73 L360.40,243.85 L361.10,243.98 L361.80,244.02 L362.50,244.08 L363.20,244.10 L363.90,244.14 L364.60,244.16 L365.30,244.17 L366.00,244.18 L366.70,244.19 L367.40,244.19 L368.10,244.20 L368.80,244.20 L369.50,244.20 L370.20,244.20 L370.90,244.20 L371.60,244.20 L372.30,244.20 L373.00,244.20 L373.70,244.20 L374.40,244.20 L375.10,244.20 L375.80,244.20 L376.50,244.20 L377.20,244.20 L377.90,244.20 L378.60,244.20 L379.30,244.20" fill="none" stroke="#4646d8" stroke-width="1.1" stroke-opacity="0.85" stroke-linejoin="round"/>
<path d="M303.00,192.60 L303.70,193.27 L304.40,198.56 L305.10,198.94 L305.80,197.46 L306.50,202.30 L307.20,201.95 L307.90,200.22 L308.60,201.72 L309.30,204.96 L310.00,204.52 L310.70,205.77 L311.40,202.93 L312.10,204.10 L312.80,207.74 L313.50,202.88 L314.20,212.98 L314.90,211.27 L315.60,206.44 L316.30,214.34 L317.00,217.78 L317.70,210.43 L318.40,213.33 L319.10,219.62 L319.80,216.12 L320.50,220.06 L321.20,222.41 L321.90,221.21 L322.60,222.22 L323.30,224.50 L324.00,223.69 L324.70,225.86 L325.40,226.01 L326.10,226.81 L326.80,226.67 L327.50,229.89 L328.20,231.50 L328.90,231.00 L329.60,232.01 L330.30,229.23 L331.00,230.94 L331.70,233.10 L332.40,231.56 L333.10,233.75 L333.80,231.48 L334.50,233.70 L335.20,232.44 L335.90,232.33 L336.60,231.53 L337.30,231.05 L338.00,233.05 L338.70,231.06 L339.40,229.32 L340.10,224.59 L340.80,227.83 L341.50,226.75 L342.20,230.19 L342.90,225.32 L343.60,229.17 L344.30,228.62 L345.00,226.81 L345.70,229.41 L346.40,225.83 L347.10,226.42 L347.80,230.67 L348.50,229.67 L349.20,232.32 L349.90,232.08 L350.60,231.84 L351.30,232.20 L352.00,233.85 L352.70,234.61 L353.40,236.73 L354.10,237.62 L354.80,238.50 L355.50,238.57 L356.20,237.94 L356.90,241.21 L357.60,241.25 L358.30,240.98 L359.00,242.51 L359.70,242.28 L360.40,241.65 L361.10,242.22 L361.80,243.23 L362.50,243.37 L363.20,243.65 L363.90,243.71 L364.60,243.85 L365.30,243.87 L366.00,243.98 L366.70,244.04 L367.40,244.08 L368.10,244.10 L368.80,244.13 L369.50,244.15 L370.20,244.16 L370.90,244.17 L371.60,244.18 L372.30,244.18 L373.00,244.19 L373.70,244.19 L374.40,244.19 L375.10,244.19 L375.80,244.19 L376.50,244.20 L377.20,244.20 L377.90,244.20 L378.60,244.20 L379.30,244.20" fill="none" stroke="#6ee8a0" stroke-width="1.1" stroke-opacity="0.85" stroke-linejoin="round"/>
<path d="M303.00,180.33 L303.70,187.55 L304.40,184.05 L305.10,179.55 L305.80,184.61 L306.50,184.89 L307.20,189.02 L307.90,186.84 L308.60,189.80 L309.30,185.30 L310.00,191.79 L310.70,195.57 L311.40,205.05 L312.10,195.70 L312.80,198.60 L313.50,206.54 L314.20,211.09 L314.90,210.89 L315.60,205.68 L316.30,213.82 L317.00,213.03 L317.70,212.84 L318.40,214.32 L319.10,217.42 L319.80,219.77 L320.50,222.59 L321.20,219.65 L321.90,221.98 L322.60,224.53 L323.30,229.24 L324.00,227.95 L324.70,226.69 L325.40,230.19 L326.10,229.36 L326.80,231.23 L327.50,232.88 L328.20,232.35 L328.90,233.36 L329.60,234.94 L330.30,234.07 L331.00,233.96 L331.70,237.09 L332.40,236.47 L333.10,237.87 L333.80,238.90 L334.50,239.21 L335.20,240.01 L335.90,238.82 L336.60,239.66 L337.30,238.70 L338.00,239.64 L338.70,240.13 L339.40,241.71 L340.10,241.09 L340.80,241.43 L341.50,242.63 L342.20,241.92 L342.90,241.88 L343.60,242.70 L344.30,241.77 L345.00,242.37 L345.70,243.81 L346.40,243.29 L347.10,244.10 L347.80,243.60 L348.50,243.69 L349.20,243.82 L349.90,243.87 L350.60,243.99 L351.30,244.04 L352.00,244.15 L352.70,244.16 L353.40,244.23 L354.10,244.26 L354.80,244.29 L355.50,244.31 L356.20,244.37 L356.90,244.39 L357.60,244.39 L358.30,244.40 L359.00,244.42 L359.70,244.43 L360.40,244.44 L361.10,244.45 L361.80,244.46 L362.50,244.47 L363.20,244.48 L363.90,244.48 L364.60,244.48 L365.30,244.49 L366.00,244.49 L366.70,244.49 L367.40,244.49 L368.10,244.49 L368.80,244.50 L369.50,244.50 L370.20,244.50 L370.90,244.50 L371.60,244.50 L372.30,244.50 L373.00,244.50 L373.70,244.50 L374.40,244.50 L375.10,244.50 L375.80,244.50 L376.50,244.50 L377.20,244.50 L377.90,244.50 L378.60,244.50 L379.30,244.50" fill="none" stroke="#111" stroke-width="0.9" stroke-linejoin="round"/>
<line x1="302.50" y1="166.20" x2="302.50" y2="244.50" stroke="#222" stroke-width="0.8" />
<line x1="302.50" y1="244.50" x2="380.00" y2="244.50" stroke="#222" stroke-width="0.8" />
<line x1="300.50" y1="244.50" x2="302.50" y2="244.50" stroke="#222" stroke-width="0.6" />
<text x="299.30" y="244.50" font-size="5.6" fill="#333" text-anchor="middle" transform="rotate(-90 299.30 244.50)" >0</text>
<line x1="300.50" y1="226.40" x2="302.50" y2="226.40" stroke="#222" stroke-width="0.6" />
<text x="299.30" y="226.40" font-size="5.6" fill="#333" text-anchor="middle" transform="rotate(-90 299.30 226.40)" >20</text>
<line x1="300.50" y1="208.30" x2="302.50" y2="208.30" stroke="#222" stroke-width="0.6" />
<text x="299.30" y="208.30" font-size="5.6" fill="#333" text-anchor="middle" transform="rotate(-90 299.30 208.30)" >40</text>
<line x1="300.50" y1="190.20" x2="302.50" y2="190.20" stroke="#222" stroke-width="0.6" />
<text x="299.30" y="190.20" font-size="5.6" fill="#333" text-anchor="middle" transform="rotate(-90 299.30 190.20)" >60</text>
<line x1="300.50" y1="172.10" x2="302.50" y2="172.10" stroke="#222" stroke-width="0.6" />
<text x="299.30" y="172.10" font-size="5.6" fill="#333" text-anchor="middle" transform="rotate(-90 299.30 172.10)" >80</text>
<line x1="301.30" y1="240.88" x2="302.50" y2="240.88" stroke="#222" stroke-width="0.5" />
<line x1="301.30" y1="237.26" x2="302.50" y2="237.26" stroke="#222" stroke-width="0.5" />
<line x1="301.30" y1="233.64" x2="302.50" y2="233.64" stroke="#222" stroke-width="0.5" />
<line x1="301.30" y1="230.02" x2="302.50" y2="230.02" stroke="#222" stroke-width="0.5" />
<line x1="301.30" y1="222.78" x2="302.50" y2="222.78" stroke="#222" stroke-width="0.5" />
<line x1="301.30" y1="219.16" x2="302.50" y2="219.16" stroke="#222" stroke-width="0.5" />
<line x1="301.30" y1="215.54" x2="302.50" y2="215.54" stroke="#222" stroke-width="0.5" />
<line x1="301.30" y1="211.92" x2="302.50" y2="211.92" stroke="#222" stroke-width="0.5" />
<line x1="301.30" y1="204.68" x2="302.50" y2="204.68" stroke="#222" stroke-width="0.5" />
<line x1="301.30" y1="201.06" x2="302.50" y2="201.06" stroke="#222" stroke-width="0.5" />
<line x1="301.30" y1="197.44" x2="302.50" y2="197.44" stroke="#222" stroke-width="0.5" />
<line x1="301.30" y1="193.82" x2="302.50" y2="193.82" stroke="#222" stroke-width="0.5" />
<line x1="301.30" y1="186.58" x2="302.50" y2="186.58" stroke="#222" stroke-width="0.5" />
<line x1="301.30" y1="182.96" x2="302.50" y2="182.96" stroke="#222" stroke-width="0.5" />
<line x1="301.30" y1="179.34" x2="302.50" y2="179.34" stroke="#222" stroke-width="0.5" />
<line x1="301.30" y1="175.72" x2="302.50" y2="175.72" stroke="#222" stroke-width="0.5" />
<text x="291.70" y="199.00" font-size="5.6" fill="#222" text-anchor="middle" transform="rotate(-90 291.70 199.00)" >Counts</text>
<line x1="302.50" y1="244.50" x2="302.50" y2="246.70" stroke="#222" stroke-width="0.6" />
<text x="302.50" y="252.70" font-size="6.7" fill="#222" text-anchor="middle" >10</text>
<text x="306.30" y="249.10" font-size="4.8" fill="#222" text-anchor="start" >0</text>
<line x1="309.72" y1="244.50" x2="309.72" y2="245.70" stroke="#222" stroke-width="0.5" />
<line x1="313.95" y1="244.50" x2="313.95" y2="245.70" stroke="#222" stroke-width="0.5" />
<line x1="316.95" y1="244.50" x2="316.95" y2="245.70" stroke="#222" stroke-width="0.5" />
<line x1="319.28" y1="244.50" x2="319.28" y2="245.70" stroke="#222" stroke-width="0.5" />
<line x1="321.18" y1="244.50" x2="321.18" y2="245.70" stroke="#222" stroke-width="0.5" />
<line x1="322.78" y1="244.50" x2="322.78" y2="245.70" stroke="#222" stroke-width="0.5" />
<line x1="324.17" y1="244.50" x2="324.17" y2="245.70" stroke="#222" stroke-width="0.5" />
<line x1="325.40" y1="244.50" x2="325.40" y2="245.70" stroke="#222" stroke-width="0.5" />
<line x1="326.50" y1="244.50" x2="326.50" y2="246.70" stroke="#222" stroke-width="0.6" />
<text x="326.50" y="252.70" font-size="6.7" fill="#222" text-anchor="middle" >10</text>
<text x="330.30" y="249.10" font-size="4.8" fill="#222" text-anchor="start" >1</text>
<line x1="333.72" y1="244.50" x2="333.72" y2="245.70" stroke="#222" stroke-width="0.5" />
<line x1="337.95" y1="244.50" x2="337.95" y2="245.70" stroke="#222" stroke-width="0.5" />
<line x1="340.95" y1="244.50" x2="340.95" y2="245.70" stroke="#222" stroke-width="0.5" />
<line x1="343.28" y1="244.50" x2="343.28" y2="245.70" stroke="#222" stroke-width="0.5" />
<line x1="345.18" y1="244.50" x2="345.18" y2="245.70" stroke="#222" stroke-width="0.5" />
<line x1="346.78" y1="244.50" x2="346.78" y2="245.70" stroke="#222" stroke-width="0.5" />
<line x1="348.17" y1="244.50" x2="348.17" y2="245.70" stroke="#222" stroke-width="0.5" />
<line x1="349.40" y1="244.50" x2="349.40" y2="245.70" stroke="#222" stroke-width="0.5" />
<line x1="350.50" y1="244.50" x2="350.50" y2="246.70" stroke="#222" stroke-width="0.6" />
<text x="350.50" y="252.70" font-size="6.7" fill="#222" text-anchor="middle" >10</text>
<text x="354.30" y="249.10" font-size="4.8" fill="#222" text-anchor="start" >2</text>
<line x1="357.72" y1="244.50" x2="357.72" y2="245.70" stroke="#222" stroke-width="0.5" />
<line x1="361.95" y1="244.50" x2="361.95" y2="245.70" stroke="#222" stroke-width="0.5" />
<line x1="364.95" y1="244.50" x2="364.95" y2="245.70" stroke="#222" stroke-width="0.5" />
<line x1="367.28" y1="244.50" x2="367.28" y2="245.70" stroke="#222" stroke-width="0.5" />
<line x1="369.18" y1="244.50" x2="369.18" y2="245.70" stroke="#222" stroke-width="0.5" />
<line x1="370.78" y1="244.50" x2="370.78" y2="245.70" stroke="#222" stroke-width="0.5" />
<line x1="372.17" y1="244.50" x2="372.17" y2="245.70" stroke="#222" stroke-width="0.5" />
<line x1="373.40" y1="244.50" x2="373.40" y2="245.70" stroke="#222" stroke-width="0.5" />
<line x1="374.50" y1="244.50" x2="374.50" y2="246.70" stroke="#222" stroke-width="0.6" />
<text x="374.50" y="252.70" font-size="6.7" fill="#222" text-anchor="middle" >10</text>
<text x="378.30" y="249.10" font-size="4.8" fill="#222" text-anchor="start" >3</text>
<text x="336.50" y="257.70" font-size="6.6" fill="#222" text-anchor="start" textLength="29.5" lengthAdjust="spacingAndGlyphs" >FL1-Height</text>
<text x="340.00" y="181.20" font-size="12" fill="#111" text-anchor="start" stroke="#111" stroke-width="0.12" textLength="25.5" lengthAdjust="spacingAndGlyphs" >CML</text>
<path d="M301.70,357.00 L302.20,354.71 L302.90,354.59 L303.60,352.95 L304.30,353.21 L305.00,351.71 L305.70,350.60 L306.40,349.52 L307.10,348.15 L307.80,346.64 L308.50,344.47 L309.20,342.04 L309.90,338.52 L310.60,338.44 L311.30,338.30 L312.00,333.78 L312.70,333.99 L313.40,330.08 L314.10,328.22 L314.80,327.96 L315.50,323.97 L316.20,323.38 L316.90,323.61 L317.60,314.16 L318.30,318.04 L319.00,317.94 L319.70,319.72 L320.40,318.42 L321.10,319.83 L321.80,318.83 L322.50,318.48 L323.20,325.99 L323.90,327.33 L324.60,330.43 L325.30,338.66 L326.00,336.91 L326.70,335.30 L327.40,336.60 L328.10,340.88 L328.80,340.34 L329.50,342.20 L330.20,346.13 L330.90,345.49 L331.60,347.53 L332.30,349.22 L333.00,352.04 L333.70,351.34 L334.40,352.67 L335.10,354.19 L335.80,354.47 L336.50,355.20 L337.20,354.64 L337.90,355.95 L338.60,355.53 L339.30,356.11 L340.00,356.39 L340.70,356.51 L341.40,356.59 L342.10,356.72 L342.80,356.74 L343.50,356.85 L344.20,356.89 L344.90,356.91 L345.60,356.94 L346.30,356.96 L347.00,356.97 L347.70,356.98 L348.40,356.98 L349.10,356.99 L349.80,356.99 L350.50,357.00 L351.20,357.00 L351.90,357.00 L352.60,357.00 L353.30,357.00 L354.00,357.00 L354.70,357.00 L355.40,357.00 L356.10,357.00 L356.80,357.00 L357.50,357.00 L358.20,357.00 L358.90,357.00 L359.60,357.00 L360.30,357.00 L361.00,357.00 L361.70,357.00 L362.40,357.00 L363.10,357.00 L363.80,357.00 L364.50,357.00 L365.20,357.00 L365.90,357.00 L366.60,357.00 L367.30,357.00 L368.00,357.00 L368.70,357.00 L369.40,357.00 L370.10,357.00 L370.80,357.00 L371.50,357.00 L372.20,357.00 L372.90,357.00 L373.60,357.00 L374.30,357.00 L375.00,357.00 L375.70,357.00 L376.40,357.00 L377.10,357.00 L377.80,357.00 L378.50,357.00 L379.20,357.00 L379.90,357.00 L380.60,357.00 L381.30,357.00 L382.00,357.00 L382.70,357.00 L383.40,357.00 L383.40,357.00 Z" fill="#6a7875" stroke="none"/>
<path d="M302.20,283.70 L302.90,336.59 L303.60,353.01 L304.30,353.31 L305.00,351.33 L305.70,351.72 L306.40,349.32 L307.10,347.88 L307.80,344.82 L308.50,343.91 L309.20,342.99 L309.90,338.56 L310.60,334.83 L311.30,333.47 L312.00,330.59 L312.70,323.68 L313.40,321.15 L314.10,324.64 L314.80,322.65 L315.50,312.47 L316.20,318.51 L316.90,310.23 L317.60,307.90 L318.30,315.33 L319.00,314.26 L319.70,314.07 L320.40,318.49 L321.10,321.11 L321.80,322.38 L322.50,321.52 L323.20,327.92 L323.90,329.79 L324.60,333.31 L325.30,338.58 L326.00,338.14 L326.70,345.62 L327.40,345.79 L328.10,346.06 L328.80,349.87 L329.50,350.62 L330.20,352.23 L330.90,353.01 L331.60,353.96 L332.30,355.04 L333.00,355.25 L333.70,355.75 L334.40,356.03 L335.10,356.20 L335.80,356.38 L336.50,356.47 L337.20,356.56 L337.90,356.62 L338.60,356.64 L339.30,356.66 L340.00,356.68 L340.70,356.69 L341.40,356.69 L342.10,356.70 L342.80,356.70 L343.50,356.70 L344.20,356.70 L344.90,356.70 L345.60,356.70 L346.30,356.70 L347.00,356.70 L347.70,356.70 L348.40,356.70 L349.10,356.70 L349.80,356.70 L350.50,356.70 L351.20,356.70 L351.90,356.70 L352.60,356.70 L353.30,356.70 L354.00,356.70 L354.70,356.70 L355.40,356.70 L356.10,356.70 L356.80,356.70 L357.50,356.70 L358.20,356.70 L358.90,356.70 L359.60,356.70 L360.30,356.70 L361.00,356.70 L361.70,356.70 L362.40,356.70 L363.10,356.70 L363.80,356.70 L364.50,356.70 L365.20,356.70 L365.90,356.70 L366.60,356.70 L367.30,356.70 L368.00,356.70 L368.70,356.70 L369.40,356.70 L370.10,356.70 L370.80,356.70 L371.50,356.70 L372.20,356.70 L372.90,356.70 L373.60,356.70 L374.30,356.70 L375.00,356.70 L375.70,356.70 L376.40,356.70 L377.10,356.70 L377.80,356.70 L378.50,356.70 L379.20,356.70 L379.90,356.70 L380.60,356.70 L381.30,356.70 L382.00,356.70 L382.70,356.70 L383.40,356.70" fill="none" stroke="#e84848" stroke-width="1.1" stroke-opacity="0.85" stroke-linejoin="round"/>
<path d="M302.20,356.50 L302.90,356.43 L303.60,356.38 L304.30,356.21 L305.00,356.03 L305.70,355.84 L306.40,355.63 L307.10,354.94 L307.80,354.71 L308.50,354.78 L309.20,354.62 L309.90,353.65 L310.60,353.15 L311.30,352.66 L312.00,350.84 L312.70,351.13 L313.40,350.72 L314.10,347.47 L314.80,347.65 L315.50,344.54 L316.20,343.26 L316.90,345.48 L317.60,341.12 L318.30,340.22 L319.00,338.26 L319.70,337.96 L320.40,334.09 L321.10,331.43 L321.80,332.66 L322.50,328.68 L323.20,325.24 L323.90,326.85 L324.60,326.27 L325.30,317.59 L326.00,317.53 L326.70,325.15 L327.40,323.28 L328.10,318.97 L328.80,323.11 L329.50,320.85 L330.20,323.78 L330.90,321.92 L331.60,331.07 L332.30,331.82 L333.00,330.66 L333.70,329.15 L334.40,332.21 L335.10,337.16 L335.80,336.13 L336.50,338.83 L337.20,341.40 L337.90,343.77 L338.60,344.19 L339.30,345.72 L340.00,347.65 L340.70,349.52 L341.40,349.94 L342.10,353.37 L342.80,353.64 L343.50,353.15 L344.20,355.13 L344.90,354.29 L345.60,355.74 L346.30,355.38 L347.00,355.71 L347.70,356.08 L348.40,356.15 L349.10,356.32 L349.80,356.43 L350.50,356.50 L351.20,356.53 L351.90,356.58 L352.60,356.63 L353.30,356.65 L354.00,356.66 L354.70,356.68 L355.40,356.68 L356.10,356.69 L356.80,356.69 L357.50,356.69 L358.20,356.70 L358.90,356.70 L359.60,356.70 L360.30,356.70 L361.00,356.70 L361.70,356.70 L362.40,356.70 L363.10,356.70 L363.80,356.70 L364.50,356.70 L365.20,356.70 L365.90,356.70 L366.60,356.70 L367.30,356.70 L368.00,356.70 L368.70,356.70 L369.40,356.70 L370.10,356.70 L370.80,356.70 L371.50,356.70 L372.20,356.70 L372.90,356.70 L373.60,356.70 L374.30,356.70 L375.00,356.70 L375.70,356.70 L376.40,356.70 L377.10,356.70 L377.80,356.70 L378.50,356.70 L379.20,356.70 L379.90,356.70 L380.60,356.70 L381.30,356.70 L382.00,356.70 L382.70,356.70 L383.40,356.70" fill="none" stroke="#4646d8" stroke-width="1.1" stroke-opacity="0.85" stroke-linejoin="round"/>
<path d="M302.20,348.42 L302.90,351.98 L303.60,355.06 L304.30,355.02 L305.00,354.31 L305.70,353.51 L306.40,354.18 L307.10,354.50 L307.80,353.89 L308.50,353.17 L309.20,351.94 L309.90,352.70 L310.60,350.48 L311.30,350.14 L312.00,348.27 L312.70,347.59 L313.40,346.93 L314.10,345.59 L314.80,346.69 L315.50,345.43 L316.20,340.59 L316.90,337.98 L317.60,339.45 L318.30,338.60 L319.00,340.02 L319.70,334.90 L320.40,334.40 L321.10,336.46 L321.80,332.28 L322.50,332.22 L323.20,330.44 L323.90,333.67 L324.60,329.79 L325.30,333.61 L326.00,327.62 L326.70,330.75 L327.40,333.20 L328.10,329.12 L328.80,329.95 L329.50,334.70 L330.20,330.95 L330.90,337.28 L331.60,336.14 L332.30,335.82 L333.00,341.48 L333.70,340.04 L334.40,341.72 L335.10,344.43 L335.80,346.11 L336.50,345.73 L337.20,349.16 L337.90,349.88 L338.60,349.36 L339.30,350.77 L340.00,350.44 L340.70,352.89 L341.40,351.58 L342.10,353.45 L342.80,354.35 L343.50,353.17 L344.20,354.25 L344.90,355.37 L345.60,354.73 L346.30,355.56 L347.00,355.82 L347.70,356.01 L348.40,356.21 L349.10,356.36 L349.80,356.34 L350.50,356.44 L351.20,356.51 L351.90,356.56 L352.60,356.60 L353.30,356.63 L354.00,356.64 L354.70,356.66 L355.40,356.67 L356.10,356.68 L356.80,356.68 L357.50,356.69 L358.20,356.69 L358.90,356.69 L359.60,356.70 L360.30,356.70 L361.00,356.70 L361.70,356.70 L362.40,356.70 L363.10,356.70 L363.80,356.70 L364.50,356.70 L365.20,356.70 L365.90,356.70 L366.60,356.70 L367.30,356.70 L368.00,356.70 L368.70,356.70 L369.40,356.70 L370.10,356.70 L370.80,356.70 L371.50,356.70 L372.20,356.70 L372.90,356.70 L373.60,356.70 L374.30,356.70 L375.00,356.70 L375.70,356.70 L376.40,356.70 L377.10,356.70 L377.80,356.70 L378.50,356.70 L379.20,356.70 L379.90,356.70 L380.60,356.70 L381.30,356.70 L382.00,356.70 L382.70,356.70 L383.40,356.70" fill="none" stroke="#6ee8a0" stroke-width="1.1" stroke-opacity="0.85" stroke-linejoin="round"/>
<path d="M302.20,354.71 L302.90,354.59 L303.60,352.95 L304.30,353.21 L305.00,351.71 L305.70,350.60 L306.40,349.52 L307.10,348.15 L307.80,346.64 L308.50,344.47 L309.20,342.04 L309.90,338.52 L310.60,338.44 L311.30,338.30 L312.00,333.78 L312.70,333.99 L313.40,330.08 L314.10,328.22 L314.80,327.96 L315.50,323.97 L316.20,323.38 L316.90,323.61 L317.60,314.16 L318.30,318.04 L319.00,317.94 L319.70,319.72 L320.40,318.42 L321.10,319.83 L321.80,318.83 L322.50,318.48 L323.20,325.99 L323.90,327.33 L324.60,330.43 L325.30,338.66 L326.00,336.91 L326.70,335.30 L327.40,336.60 L328.10,340.88 L328.80,340.34 L329.50,342.20 L330.20,346.13 L330.90,345.49 L331.60,347.53 L332.30,349.22 L333.00,352.04 L333.70,351.34 L334.40,352.67 L335.10,354.19 L335.80,354.47 L336.50,355.20 L337.20,354.64 L337.90,355.95 L338.60,355.53 L339.30,356.11 L340.00,356.39 L340.70,356.51 L341.40,356.59 L342.10,356.72 L342.80,356.74 L343.50,356.85 L344.20,356.89 L344.90,356.91 L345.60,356.94 L346.30,356.96 L347.00,356.97 L347.70,356.98 L348.40,356.98 L349.10,356.99 L349.80,356.99 L350.50,357.00 L351.20,357.00 L351.90,357.00 L352.60,357.00 L353.30,357.00 L354.00,357.00 L354.70,357.00 L355.40,357.00 L356.10,357.00 L356.80,357.00 L357.50,357.00 L358.20,357.00 L358.90,357.00 L359.60,357.00 L360.30,357.00 L361.00,357.00 L361.70,357.00 L362.40,357.00 L363.10,357.00 L363.80,357.00 L364.50,357.00 L365.20,357.00 L365.90,357.00 L366.60,357.00 L367.30,357.00 L368.00,357.00 L368.70,357.00 L369.40,357.00 L370.10,357.00 L370.80,357.00 L371.50,357.00 L372.20,357.00 L372.90,357.00 L373.60,357.00 L374.30,357.00 L375.00,357.00 L375.70,357.00 L376.40,357.00 L377.10,357.00 L377.80,357.00 L378.50,357.00 L379.20,357.00 L379.90,357.00 L380.60,357.00 L381.30,357.00 L382.00,357.00 L382.70,357.00 L383.40,357.00" fill="none" stroke="#111" stroke-width="0.9" stroke-linejoin="round"/>
<line x1="301.70" y1="278.70" x2="301.70" y2="357.00" stroke="#222" stroke-width="0.8" />
<line x1="301.70" y1="357.00" x2="384.00" y2="357.00" stroke="#222" stroke-width="0.8" />
<line x1="299.70" y1="357.00" x2="301.70" y2="357.00" stroke="#222" stroke-width="0.6" />
<text x="298.50" y="357.00" font-size="5.6" fill="#333" text-anchor="middle" transform="rotate(-90 298.50 357.00)" >0</text>
<line x1="299.70" y1="338.70" x2="301.70" y2="338.70" stroke="#222" stroke-width="0.6" />
<text x="298.50" y="338.70" font-size="5.6" fill="#333" text-anchor="middle" transform="rotate(-90 298.50 338.70)" >20</text>
<line x1="299.70" y1="320.40" x2="301.70" y2="320.40" stroke="#222" stroke-width="0.6" />
<text x="298.50" y="320.40" font-size="5.6" fill="#333" text-anchor="middle" transform="rotate(-90 298.50 320.40)" >40</text>
<line x1="299.70" y1="302.10" x2="301.70" y2="302.10" stroke="#222" stroke-width="0.6" />
<text x="298.50" y="302.10" font-size="5.6" fill="#333" text-anchor="middle" transform="rotate(-90 298.50 302.10)" >60</text>
<line x1="299.70" y1="283.80" x2="301.70" y2="283.80" stroke="#222" stroke-width="0.6" />
<text x="298.50" y="283.80" font-size="5.6" fill="#333" text-anchor="middle" transform="rotate(-90 298.50 283.80)" >80</text>
<line x1="300.50" y1="353.34" x2="301.70" y2="353.34" stroke="#222" stroke-width="0.5" />
<line x1="300.50" y1="349.68" x2="301.70" y2="349.68" stroke="#222" stroke-width="0.5" />
<line x1="300.50" y1="346.02" x2="301.70" y2="346.02" stroke="#222" stroke-width="0.5" />
<line x1="300.50" y1="342.36" x2="301.70" y2="342.36" stroke="#222" stroke-width="0.5" />
<line x1="300.50" y1="335.04" x2="301.70" y2="335.04" stroke="#222" stroke-width="0.5" />
<line x1="300.50" y1="331.38" x2="301.70" y2="331.38" stroke="#222" stroke-width="0.5" />
<line x1="300.50" y1="327.72" x2="301.70" y2="327.72" stroke="#222" stroke-width="0.5" />
<line x1="300.50" y1="324.06" x2="301.70" y2="324.06" stroke="#222" stroke-width="0.5" />
<line x1="300.50" y1="316.74" x2="301.70" y2="316.74" stroke="#222" stroke-width="0.5" />
<line x1="300.50" y1="313.08" x2="301.70" y2="313.08" stroke="#222" stroke-width="0.5" />
<line x1="300.50" y1="309.42" x2="301.70" y2="309.42" stroke="#222" stroke-width="0.5" />
<line x1="300.50" y1="305.76" x2="301.70" y2="305.76" stroke="#222" stroke-width="0.5" />
<line x1="300.50" y1="298.44" x2="301.70" y2="298.44" stroke="#222" stroke-width="0.5" />
<line x1="300.50" y1="294.78" x2="301.70" y2="294.78" stroke="#222" stroke-width="0.5" />
<line x1="300.50" y1="291.12" x2="301.70" y2="291.12" stroke="#222" stroke-width="0.5" />
<line x1="300.50" y1="287.46" x2="301.70" y2="287.46" stroke="#222" stroke-width="0.5" />
<text x="291.20" y="322.00" font-size="5.6" fill="#222" text-anchor="middle" transform="rotate(-90 291.20 322.00)" >Counts</text>
<line x1="301.70" y1="357.00" x2="301.70" y2="359.20" stroke="#222" stroke-width="0.6" />
<text x="301.20" y="364.60" font-size="6.7" fill="#222" text-anchor="middle" >10</text>
<text x="305.00" y="361.00" font-size="4.8" fill="#222" text-anchor="start" >0</text>
<line x1="313.08" y1="357.00" x2="313.08" y2="358.20" stroke="#222" stroke-width="0.5" />
<line x1="319.74" y1="357.00" x2="319.74" y2="358.20" stroke="#222" stroke-width="0.5" />
<line x1="324.46" y1="357.00" x2="324.46" y2="358.20" stroke="#222" stroke-width="0.5" />
<line x1="328.12" y1="357.00" x2="328.12" y2="358.20" stroke="#222" stroke-width="0.5" />
<line x1="331.11" y1="357.00" x2="331.11" y2="358.20" stroke="#222" stroke-width="0.5" />
<line x1="333.64" y1="357.00" x2="333.64" y2="358.20" stroke="#222" stroke-width="0.5" />
<line x1="335.84" y1="357.00" x2="335.84" y2="358.20" stroke="#222" stroke-width="0.5" />
<line x1="337.77" y1="357.00" x2="337.77" y2="358.20" stroke="#222" stroke-width="0.5" />
<line x1="339.50" y1="357.00" x2="339.50" y2="359.20" stroke="#222" stroke-width="0.6" />
<text x="339.00" y="364.60" font-size="6.7" fill="#222" text-anchor="middle" >10</text>
<text x="342.80" y="361.00" font-size="4.8" fill="#222" text-anchor="start" >1</text>
<line x1="350.88" y1="357.00" x2="350.88" y2="358.20" stroke="#222" stroke-width="0.5" />
<line x1="357.54" y1="357.00" x2="357.54" y2="358.20" stroke="#222" stroke-width="0.5" />
<line x1="362.26" y1="357.00" x2="362.26" y2="358.20" stroke="#222" stroke-width="0.5" />
<line x1="365.92" y1="357.00" x2="365.92" y2="358.20" stroke="#222" stroke-width="0.5" />
<line x1="368.91" y1="357.00" x2="368.91" y2="358.20" stroke="#222" stroke-width="0.5" />
<line x1="371.44" y1="357.00" x2="371.44" y2="358.20" stroke="#222" stroke-width="0.5" />
<line x1="373.64" y1="357.00" x2="373.64" y2="358.20" stroke="#222" stroke-width="0.5" />
<line x1="375.57" y1="357.00" x2="375.57" y2="358.20" stroke="#222" stroke-width="0.5" />
<line x1="377.30" y1="357.00" x2="377.30" y2="359.20" stroke="#222" stroke-width="0.6" />
<text x="376.80" y="364.60" font-size="6.7" fill="#222" text-anchor="middle" >10</text>
<text x="380.60" y="361.00" font-size="4.8" fill="#222" text-anchor="start" >2</text>
<text x="341.70" y="369.70" font-size="6.6" fill="#222" text-anchor="start" textLength="29.4" lengthAdjust="spacingAndGlyphs" >FL1-Height</text>
<text x="331.20" y="295.00" font-size="12" fill="#111" text-anchor="start" stroke="#111" stroke-width="0.12" textLength="42.5" lengthAdjust="spacingAndGlyphs" >AML M1</text>
<rect x="163.60" y="47.40" width="70.00" height="80.60" fill="none" stroke="#8a8a8a" stroke-width="0.9"/>
<line x1="162.10" y1="128.00" x2="163.60" y2="128.00" stroke="#666" stroke-width="0.6" />
<text x="157.70" y="130.20" font-size="6.2" fill="#111" text-anchor="end" stroke="#111" stroke-width="0.12">0</text>
<line x1="162.10" y1="111.88" x2="163.60" y2="111.88" stroke="#666" stroke-width="0.6" />
<text x="157.70" y="114.08" font-size="6.2" fill="#111" text-anchor="end" stroke="#111" stroke-width="0.12">20</text>
<line x1="162.10" y1="95.76" x2="163.60" y2="95.76" stroke="#666" stroke-width="0.6" />
<text x="157.70" y="97.96" font-size="6.2" fill="#111" text-anchor="end" stroke="#111" stroke-width="0.12">40</text>
<line x1="162.10" y1="79.64" x2="163.60" y2="79.64" stroke="#666" stroke-width="0.6" />
<text x="157.70" y="81.84" font-size="6.2" fill="#111" text-anchor="end" stroke="#111" stroke-width="0.12">60</text>
<line x1="162.10" y1="63.52" x2="163.60" y2="63.52" stroke="#666" stroke-width="0.6" />
<text x="157.70" y="65.72" font-size="6.2" fill="#111" text-anchor="end" stroke="#111" stroke-width="0.12">80</text>
<line x1="162.10" y1="47.40" x2="163.60" y2="47.40" stroke="#666" stroke-width="0.6" />
<text x="157.70" y="49.60" font-size="6.2" fill="#111" text-anchor="end" stroke="#111" stroke-width="0.12">100</text>
<line x1="233.60" y1="128.00" x2="235.10" y2="128.00" stroke="#666" stroke-width="0.6" />
<text x="236.00" y="130.20" font-size="6.2" fill="#8a3440" text-anchor="start" stroke="#8a3440" stroke-width="0.12">0</text>
<line x1="233.60" y1="114.57" x2="235.10" y2="114.57" stroke="#666" stroke-width="0.6" />
<text x="236.00" y="116.77" font-size="6.2" fill="#8a3440" text-anchor="start" stroke="#8a3440" stroke-width="0.12">4</text>
<line x1="233.60" y1="101.13" x2="235.10" y2="101.13" stroke="#666" stroke-width="0.6" />
<text x="236.00" y="103.33" font-size="6.2" fill="#8a3440" text-anchor="start" stroke="#8a3440" stroke-width="0.12">8</text>
<line x1="233.60" y1="87.70" x2="235.10" y2="87.70" stroke="#666" stroke-width="0.6" />
<text x="236.00" y="89.90" font-size="6.2" fill="#8a3440" text-anchor="start" stroke="#8a3440" stroke-width="0.12">12</text>
<line x1="233.60" y1="74.27" x2="235.10" y2="74.27" stroke="#666" stroke-width="0.6" />
<text x="236.00" y="76.47" font-size="6.2" fill="#8a3440" text-anchor="start" stroke="#8a3440" stroke-width="0.12">16</text>
<line x1="233.60" y1="60.83" x2="235.10" y2="60.83" stroke="#666" stroke-width="0.6" />
<text x="236.00" y="63.03" font-size="6.2" fill="#8a3440" text-anchor="start" stroke="#8a3440" stroke-width="0.12">20</text>
<line x1="233.60" y1="47.40" x2="235.10" y2="47.40" stroke="#666" stroke-width="0.6" />
<text x="236.00" y="49.60" font-size="6.2" fill="#8a3440" text-anchor="start" stroke="#8a3440" stroke-width="0.12">24</text>
<rect x="168.76" y="119.94" width="7.6" height="8.06" fill="url(#bargrad)" stroke="#111" stroke-width="0.5"/>
<text x="172.56" y="117.34" font-size="6" fill="#111" text-anchor="middle" >10</text>
<rect x="186.12" y="94.15" width="7.6" height="33.85" fill="url(#bargrad)" stroke="#111" stroke-width="0.5"/>
<text x="189.92" y="91.55" font-size="6" fill="#111" text-anchor="middle" >42</text>
<rect x="203.48" y="59.49" width="7.6" height="68.51" fill="url(#bargrad)" stroke="#111" stroke-width="0.5"/>
<text x="207.28" y="56.89" font-size="6" fill="#111" text-anchor="middle" >85</text>
<rect x="220.84" y="99.79" width="7.6" height="28.21" fill="url(#bargrad)" stroke="#111" stroke-width="0.5"/>
<text x="224.64" y="97.19" font-size="6" fill="#111" text-anchor="middle" >35</text>
<polyline points="172.56,111.21 189.92,99.79 207.28,69.23 224.64,102.81" fill="none" stroke="#c05050" stroke-width="0.6"/>
<path d="M171.36,111.21 L172.56,110.01 L173.76,111.21 L172.56,112.41 Z" fill="#a02020"/>
<path d="M188.72,99.79 L189.92,98.59 L191.12,99.79 L189.92,100.99 Z" fill="#a02020"/>
<path d="M206.08,69.23 L207.28,68.03 L208.48,69.23 L207.28,70.43 Z" fill="#a02020"/>
<path d="M223.44,102.81 L224.64,101.61 L225.84,102.81 L224.64,104.01 Z" fill="#a02020"/>
<line x1="171.16" y1="135.40" x2="173.96" y2="135.40" stroke="#111" stroke-width="1.1" />
<line x1="171.16" y1="144.60" x2="173.96" y2="144.60" stroke="#111" stroke-width="1.1" />
<line x1="187.42" y1="135.40" x2="192.42" y2="135.40" stroke="#111" stroke-width="1.1" />
<line x1="189.92" y1="132.90" x2="189.92" y2="137.90" stroke="#111" stroke-width="1.1" />
<line x1="188.52" y1="144.60" x2="191.32" y2="144.60" stroke="#111" stroke-width="1.1" />
<line x1="204.78" y1="135.40" x2="209.78" y2="135.40" stroke="#111" stroke-width="1.1" />
<line x1="207.28" y1="132.90" x2="207.28" y2="137.90" stroke="#111" stroke-width="1.1" />
<line x1="204.78" y1="144.60" x2="209.78" y2="144.60" stroke="#111" stroke-width="1.1" />
<line x1="207.28" y1="142.10" x2="207.28" y2="147.10" stroke="#111" stroke-width="1.1" />
<line x1="223.24" y1="135.40" x2="226.04" y2="135.40" stroke="#111" stroke-width="1.1" />
<line x1="222.14" y1="144.60" x2="227.14" y2="144.60" stroke="#111" stroke-width="1.1" />
<line x1="224.64" y1="142.10" x2="224.64" y2="147.10" stroke="#111" stroke-width="1.1" />
<rect x="137.80" y="120.20" width="5.4" height="5.4" fill="#111"/>
<text x="143.40" y="118.60" font-size="8.5" fill="#111" text-anchor="start" stroke="#111" stroke-width="0.12" textLength="65.19999999999999" lengthAdjust="spacingAndGlyphs" transform="rotate(-90 143.40 118.60)" >CD11b <tspan font-size="6" dy="-2.6">+</tspan><tspan dy="2.6">cells [%]</tspan></text>
<text x="256.90" y="97.20" font-size="8" fill="#111" text-anchor="start" stroke="#111" stroke-width="0.12" textLength="20.200000000000003" lengthAdjust="spacingAndGlyphs" transform="rotate(-90 256.90 97.20)" >mean</text>
<line x1="254.40" y1="98.20" x2="254.40" y2="122.50" stroke="#a02020" stroke-width="0.9" />
<path d="M251.90,110.80 L254.40,108.30 L256.90,110.80 L254.40,113.30 Z" fill="#a01818"/>
<text x="123.50" y="138.00" font-size="8.5" fill="#111" text-anchor="start" stroke="#111" stroke-width="0.12" textLength="21.8" lengthAdjust="spacingAndGlyphs" >ATRA</text>
<text x="123.50" y="148.20" font-size="8.5" fill="#111" text-anchor="start" stroke="#111" stroke-width="0.12" textLength="42.6" lengthAdjust="spacingAndGlyphs" >G/GM-CSF</text>
<rect x="161.30" y="159.50" width="72.40" height="83.50" fill="none" stroke="#8a8a8a" stroke-width="0.9"/>
<line x1="159.80" y1="243.00" x2="161.30" y2="243.00" stroke="#666" stroke-width="0.6" />
<text x="157.70" y="245.20" font-size="6.2" fill="#111" text-anchor="end" stroke="#111" stroke-width="0.12">0</text>
<line x1="159.80" y1="226.30" x2="161.30" y2="226.30" stroke="#666" stroke-width="0.6" />
<text x="157.70" y="228.50" font-size="6.2" fill="#111" text-anchor="end" stroke="#111" stroke-width="0.12">20</text>
<line x1="159.80" y1="209.60" x2="161.30" y2="209.60" stroke="#666" stroke-width="0.6" />
<text x="157.70" y="211.80" font-size="6.2" fill="#111" text-anchor="end" stroke="#111" stroke-width="0.12">40</text>
<line x1="159.80" y1="192.90" x2="161.30" y2="192.90" stroke="#666" stroke-width="0.6" />
<text x="157.70" y="195.10" font-size="6.2" fill="#111" text-anchor="end" stroke="#111" stroke-width="0.12">60</text>
<line x1="159.80" y1="176.20" x2="161.30" y2="176.20" stroke="#666" stroke-width="0.6" />
<text x="157.70" y="178.40" font-size="6.2" fill="#111" text-anchor="end" stroke="#111" stroke-width="0.12">80</text>
<line x1="159.80" y1="159.50" x2="161.30" y2="159.50" stroke="#666" stroke-width="0.6" />
<text x="157.70" y="161.70" font-size="6.2" fill="#111" text-anchor="end" stroke="#111" stroke-width="0.12">100</text>
<line x1="233.70" y1="243.00" x2="235.20" y2="243.00" stroke="#666" stroke-width="0.6" />
<text x="236.10" y="245.20" font-size="6.2" fill="#8a3440" text-anchor="start" stroke="#8a3440" stroke-width="0.12">0</text>
<line x1="233.70" y1="229.08" x2="235.20" y2="229.08" stroke="#666" stroke-width="0.6" />
<text x="236.10" y="231.28" font-size="6.2" fill="#8a3440" text-anchor="start" stroke="#8a3440" stroke-width="0.12">4</text>
<line x1="233.70" y1="215.17" x2="235.20" y2="215.17" stroke="#666" stroke-width="0.6" />
<text x="236.10" y="217.37" font-size="6.2" fill="#8a3440" text-anchor="start" stroke="#8a3440" stroke-width="0.12">8</text>
<line x1="233.70" y1="201.25" x2="235.20" y2="201.25" stroke="#666" stroke-width="0.6" />
<text x="236.10" y="203.45" font-size="6.2" fill="#8a3440" text-anchor="start" stroke="#8a3440" stroke-width="0.12">12</text>
<line x1="233.70" y1="187.33" x2="235.20" y2="187.33" stroke="#666" stroke-width="0.6" />
<text x="236.10" y="189.53" font-size="6.2" fill="#8a3440" text-anchor="start" stroke="#8a3440" stroke-width="0.12">16</text>
<line x1="233.70" y1="173.42" x2="235.20" y2="173.42" stroke="#666" stroke-width="0.6" />
<text x="236.10" y="175.62" font-size="6.2" fill="#8a3440" text-anchor="start" stroke="#8a3440" stroke-width="0.12">20</text>
<line x1="233.70" y1="159.50" x2="235.20" y2="159.50" stroke="#666" stroke-width="0.6" />
<text x="236.10" y="161.70" font-size="6.2" fill="#8a3440" text-anchor="start" stroke="#8a3440" stroke-width="0.12">24</text>
<rect x="166.77" y="242.16" width="7.6" height="0.84" fill="url(#bargrad)" stroke="#111" stroke-width="0.5"/>
<text x="170.57" y="239.56" font-size="6" fill="#111" text-anchor="middle" >1</text>
<rect x="184.72" y="224.63" width="7.6" height="18.37" fill="url(#bargrad)" stroke="#111" stroke-width="0.5"/>
<text x="188.52" y="222.03" font-size="6" fill="#111" text-anchor="middle" >22</text>
<rect x="202.68" y="195.41" width="7.6" height="47.59" fill="url(#bargrad)" stroke="#111" stroke-width="0.5"/>
<text x="206.48" y="192.81" font-size="6" fill="#111" text-anchor="middle" >57</text>
<rect x="220.63" y="240.50" width="7.6" height="2.50" fill="url(#bargrad)" stroke="#111" stroke-width="0.5"/>
<text x="224.43" y="237.90" font-size="6" fill="#111" text-anchor="middle" >3</text>
<polyline points="170.57,235.35 188.52,230.13 206.48,221.43 224.43,235.00" fill="none" stroke="#c05050" stroke-width="0.6"/>
<path d="M169.37,235.35 L170.57,234.15 L171.77,235.35 L170.57,236.55 Z" fill="#a02020"/>
<path d="M187.32,230.13 L188.52,228.93 L189.72,230.13 L188.52,231.33 Z" fill="#a02020"/>
<path d="M205.28,221.43 L206.48,220.23 L207.68,221.43 L206.48,222.63 Z" fill="#a02020"/>
<path d="M223.23,235.00 L224.43,233.80 L225.63,235.00 L224.43,236.20 Z" fill="#a02020"/>
<line x1="169.17" y1="250.00" x2="171.97" y2="250.00" stroke="#111" stroke-width="1.1" />
<line x1="169.17" y1="258.80" x2="171.97" y2="258.80" stroke="#111" stroke-width="1.1" />
<line x1="186.02" y1="250.00" x2="191.02" y2="250.00" stroke="#111" stroke-width="1.1" />
<line x1="188.52" y1="247.50" x2="188.52" y2="252.50" stroke="#111" stroke-width="1.1" />
<line x1="187.12" y1="258.80" x2="189.92" y2="258.80" stroke="#111" stroke-width="1.1" />
<line x1="203.98" y1="250.00" x2="208.98" y2="250.00" stroke="#111" stroke-width="1.1" />
<line x1="206.48" y1="247.50" x2="206.48" y2="252.50" stroke="#111" stroke-width="1.1" />
<line x1="203.98" y1="258.80" x2="208.98" y2="258.80" stroke="#111" stroke-width="1.1" />
<line x1="206.48" y1="256.30" x2="206.48" y2="261.30" stroke="#111" stroke-width="1.1" />
<line x1="223.03" y1="250.00" x2="225.83" y2="250.00" stroke="#111" stroke-width="1.1" />
<line x1="221.93" y1="258.80" x2="226.93" y2="258.80" stroke="#111" stroke-width="1.1" />
<line x1="224.43" y1="256.30" x2="224.43" y2="261.30" stroke="#111" stroke-width="1.1" />
<rect x="160.50" y="277.50" width="71.50" height="80.50" fill="none" stroke="#8a8a8a" stroke-width="0.9"/>
<line x1="159.00" y1="358.00" x2="160.50" y2="358.00" stroke="#666" stroke-width="0.6" />
<text x="157.70" y="360.20" font-size="6.2" fill="#111" text-anchor="end" stroke="#111" stroke-width="0.12">0</text>
<line x1="159.00" y1="341.90" x2="160.50" y2="341.90" stroke="#666" stroke-width="0.6" />
<text x="157.70" y="344.10" font-size="6.2" fill="#111" text-anchor="end" stroke="#111" stroke-width="0.12">20</text>
<line x1="159.00" y1="325.80" x2="160.50" y2="325.80" stroke="#666" stroke-width="0.6" />
<text x="157.70" y="328.00" font-size="6.2" fill="#111" text-anchor="end" stroke="#111" stroke-width="0.12">40</text>
<line x1="159.00" y1="309.70" x2="160.50" y2="309.70" stroke="#666" stroke-width="0.6" />
<text x="157.70" y="311.90" font-size="6.2" fill="#111" text-anchor="end" stroke="#111" stroke-width="0.12">60</text>
<line x1="159.00" y1="293.60" x2="160.50" y2="293.60" stroke="#666" stroke-width="0.6" />
<text x="157.70" y="295.80" font-size="6.2" fill="#111" text-anchor="end" stroke="#111" stroke-width="0.12">80</text>
<line x1="159.00" y1="277.50" x2="160.50" y2="277.50" stroke="#666" stroke-width="0.6" />
<text x="157.70" y="279.70" font-size="6.2" fill="#111" text-anchor="end" stroke="#111" stroke-width="0.12">100</text>
<line x1="232.00" y1="358.00" x2="233.50" y2="358.00" stroke="#666" stroke-width="0.6" />
<text x="234.40" y="360.20" font-size="6.2" fill="#8a3440" text-anchor="start" stroke="#8a3440" stroke-width="0.12">0</text>
<line x1="232.00" y1="344.58" x2="233.50" y2="344.58" stroke="#666" stroke-width="0.6" />
<text x="234.40" y="346.78" font-size="6.2" fill="#8a3440" text-anchor="start" stroke="#8a3440" stroke-width="0.12">4</text>
<line x1="232.00" y1="331.17" x2="233.50" y2="331.17" stroke="#666" stroke-width="0.6" />
<text x="234.40" y="333.37" font-size="6.2" fill="#8a3440" text-anchor="start" stroke="#8a3440" stroke-width="0.12">8</text>
<line x1="232.00" y1="317.75" x2="233.50" y2="317.75" stroke="#666" stroke-width="0.6" />
<text x="234.40" y="319.95" font-size="6.2" fill="#8a3440" text-anchor="start" stroke="#8a3440" stroke-width="0.12">12</text>
<line x1="232.00" y1="304.33" x2="233.50" y2="304.33" stroke="#666" stroke-width="0.6" />
<text x="234.40" y="306.53" font-size="6.2" fill="#8a3440" text-anchor="start" stroke="#8a3440" stroke-width="0.12">16</text>
<line x1="232.00" y1="290.92" x2="233.50" y2="290.92" stroke="#666" stroke-width="0.6" />
<text x="234.40" y="293.12" font-size="6.2" fill="#8a3440" text-anchor="start" stroke="#8a3440" stroke-width="0.12">20</text>
<line x1="232.00" y1="277.50" x2="233.50" y2="277.50" stroke="#666" stroke-width="0.6" />
<text x="234.40" y="279.70" font-size="6.2" fill="#8a3440" text-anchor="start" stroke="#8a3440" stroke-width="0.12">24</text>
<rect x="165.85" y="332.24" width="7.6" height="25.76" fill="url(#bargrad)" stroke="#111" stroke-width="0.5"/>
<text x="169.65" y="329.64" font-size="6" fill="#111" text-anchor="middle" >32</text>
<rect x="183.58" y="319.36" width="7.6" height="38.64" fill="url(#bargrad)" stroke="#111" stroke-width="0.5"/>
<text x="187.38" y="316.76" font-size="6" fill="#111" text-anchor="middle" >48</text>
<rect x="201.32" y="303.26" width="7.6" height="54.74" fill="url(#bargrad)" stroke="#111" stroke-width="0.5"/>
<text x="205.12" y="300.66" font-size="6" fill="#111" text-anchor="middle" >68</text>
<rect x="219.05" y="318.56" width="7.6" height="39.44" fill="url(#bargrad)" stroke="#111" stroke-width="0.5"/>
<text x="222.85" y="315.95" font-size="6" fill="#111" text-anchor="middle" >49</text>
<polyline points="169.65,333.85 187.38,320.10 205.12,294.94 222.85,320.10" fill="none" stroke="#c05050" stroke-width="0.6"/>
<path d="M168.45,333.85 L169.65,332.65 L170.85,333.85 L169.65,335.05 Z" fill="#a02020"/>
<path d="M186.18,320.10 L187.38,318.90 L188.58,320.10 L187.38,321.30 Z" fill="#a02020"/>
<path d="M203.92,294.94 L205.12,293.74 L206.32,294.94 L205.12,296.14 Z" fill="#a02020"/>
<path d="M221.65,320.10 L222.85,318.90 L224.05,320.10 L222.85,321.30 Z" fill="#a02020"/>
<line x1="168.25" y1="365.50" x2="171.05" y2="365.50" stroke="#111" stroke-width="1.1" />
<line x1="168.25" y1="374.50" x2="171.05" y2="374.50" stroke="#111" stroke-width="1.1" />
<line x1="184.88" y1="365.50" x2="189.88" y2="365.50" stroke="#111" stroke-width="1.1" />
<line x1="187.38" y1="363.00" x2="187.38" y2="368.00" stroke="#111" stroke-width="1.1" />
<line x1="185.98" y1="374.50" x2="188.78" y2="374.50" stroke="#111" stroke-width="1.1" />
<line x1="202.62" y1="365.50" x2="207.62" y2="365.50" stroke="#111" stroke-width="1.1" />
<line x1="205.12" y1="363.00" x2="205.12" y2="368.00" stroke="#111" stroke-width="1.1" />
<line x1="202.62" y1="374.50" x2="207.62" y2="374.50" stroke="#111" stroke-width="1.1" />
<line x1="205.12" y1="372.00" x2="205.12" y2="377.00" stroke="#111" stroke-width="1.1" />
<line x1="221.45" y1="365.50" x2="224.25" y2="365.50" stroke="#111" stroke-width="1.1" />
<line x1="220.35" y1="374.50" x2="225.35" y2="374.50" stroke="#111" stroke-width="1.1" />
<line x1="222.85" y1="372.00" x2="222.85" y2="377.00" stroke="#111" stroke-width="1.1" />
<rect x="422.00" y="45.00" width="71.70" height="81.20" fill="none" stroke="#8a8a8a" stroke-width="0.9"/>
<line x1="420.50" y1="126.20" x2="422.00" y2="126.20" stroke="#666" stroke-width="0.6" />
<text x="418.40" y="128.40" font-size="6.2" fill="#111" text-anchor="end" stroke="#111" stroke-width="0.12">0</text>
<line x1="420.50" y1="109.96" x2="422.00" y2="109.96" stroke="#666" stroke-width="0.6" />
<text x="418.40" y="112.16" font-size="6.2" fill="#111" text-anchor="end" stroke="#111" stroke-width="0.12">10</text>
<line x1="420.50" y1="93.72" x2="422.00" y2="93.72" stroke="#666" stroke-width="0.6" />
<text x="418.40" y="95.92" font-size="6.2" fill="#111" text-anchor="end" stroke="#111" stroke-width="0.12">20</text>
<line x1="420.50" y1="77.48" x2="422.00" y2="77.48" stroke="#666" stroke-width="0.6" />
<text x="418.40" y="79.68" font-size="6.2" fill="#111" text-anchor="end" stroke="#111" stroke-width="0.12">30</text>
<line x1="420.50" y1="61.24" x2="422.00" y2="61.24" stroke="#666" stroke-width="0.6" />
<text x="418.40" y="63.44" font-size="6.2" fill="#111" text-anchor="end" stroke="#111" stroke-width="0.12">40</text>
<line x1="420.50" y1="45.00" x2="422.00" y2="45.00" stroke="#666" stroke-width="0.6" />
<text x="418.40" y="47.20" font-size="6.2" fill="#111" text-anchor="end" stroke="#111" stroke-width="0.12">50</text>
<line x1="493.70" y1="126.20" x2="495.20" y2="126.20" stroke="#666" stroke-width="0.6" />
<text x="497.70" y="128.40" font-size="6.2" fill="#b03848" text-anchor="start" stroke="#b03848" stroke-width="0.12">0</text>
<line x1="493.70" y1="112.67" x2="495.20" y2="112.67" stroke="#666" stroke-width="0.6" />
<text x="497.70" y="114.87" font-size="6.2" fill="#b03848" text-anchor="start" stroke="#b03848" stroke-width="0.12">5</text>
<line x1="493.70" y1="99.13" x2="495.20" y2="99.13" stroke="#666" stroke-width="0.6" />
<text x="497.70" y="101.33" font-size="6.2" fill="#b03848" text-anchor="start" stroke="#b03848" stroke-width="0.12">10</text>
<line x1="493.70" y1="85.60" x2="495.20" y2="85.60" stroke="#666" stroke-width="0.6" />
<text x="497.70" y="87.80" font-size="6.2" fill="#b03848" text-anchor="start" stroke="#b03848" stroke-width="0.12">15</text>
<line x1="493.70" y1="72.07" x2="495.20" y2="72.07" stroke="#666" stroke-width="0.6" />
<text x="497.70" y="74.27" font-size="6.2" fill="#b03848" text-anchor="start" stroke="#b03848" stroke-width="0.12">20</text>
<line x1="493.70" y1="58.53" x2="495.20" y2="58.53" stroke="#666" stroke-width="0.6" />
<text x="497.70" y="60.73" font-size="6.2" fill="#b03848" text-anchor="start" stroke="#b03848" stroke-width="0.12">25</text>
<line x1="493.70" y1="45.00" x2="495.20" y2="45.00" stroke="#666" stroke-width="0.6" />
<text x="497.70" y="47.20" font-size="6.2" fill="#b03848" text-anchor="start" stroke="#b03848" stroke-width="0.12">30</text>
<rect x="427.38" y="113.21" width="7.6" height="12.99" fill="url(#bargrad)" stroke="#111" stroke-width="0.5"/>
<text x="431.18" y="110.61" font-size="6" fill="#111" text-anchor="middle" >8</text>
<rect x="445.16" y="105.09" width="7.6" height="21.11" fill="url(#bargrad)" stroke="#111" stroke-width="0.5"/>
<text x="448.96" y="102.49" font-size="6" fill="#111" text-anchor="middle" >13</text>
<rect x="462.94" y="51.50" width="7.6" height="74.70" fill="url(#bargrad)" stroke="#111" stroke-width="0.5"/>
<text x="466.74" y="48.90" font-size="6" fill="#111" text-anchor="middle" >46</text>
<rect x="480.72" y="96.97" width="7.6" height="29.23" fill="url(#bargrad)" stroke="#111" stroke-width="0.5"/>
<text x="484.52" y="94.37" font-size="6" fill="#111" text-anchor="middle" >18</text>
<polyline points="431.18,72.88 448.96,82.08 466.74,54.47 484.52,95.89" fill="none" stroke="#c05050" stroke-width="0.6"/>
<path d="M429.98,72.88 L431.18,71.68 L432.38,72.88 L431.18,74.08 Z" fill="#a02020"/>
<path d="M447.76,82.08 L448.96,80.88 L450.16,82.08 L448.96,83.28 Z" fill="#a02020"/>
<path d="M465.54,54.47 L466.74,53.27 L467.94,54.47 L466.74,55.67 Z" fill="#a02020"/>
<path d="M483.32,95.89 L484.52,94.69 L485.72,95.89 L484.52,97.09 Z" fill="#a02020"/>
<line x1="429.78" y1="133.00" x2="432.58" y2="133.00" stroke="#111" stroke-width="1.1" />
<line x1="429.78" y1="143.80" x2="432.58" y2="143.80" stroke="#111" stroke-width="1.1" />
<line x1="446.46" y1="133.00" x2="451.46" y2="133.00" stroke="#111" stroke-width="1.1" />
<line x1="448.96" y1="130.50" x2="448.96" y2="135.50" stroke="#111" stroke-width="1.1" />
<line x1="447.56" y1="143.80" x2="450.36" y2="143.80" stroke="#111" stroke-width="1.1" />
<line x1="464.24" y1="133.00" x2="469.24" y2="133.00" stroke="#111" stroke-width="1.1" />
<line x1="466.74" y1="130.50" x2="466.74" y2="135.50" stroke="#111" stroke-width="1.1" />
<line x1="464.24" y1="143.80" x2="469.24" y2="143.80" stroke="#111" stroke-width="1.1" />
<line x1="466.74" y1="141.30" x2="466.74" y2="146.30" stroke="#111" stroke-width="1.1" />
<line x1="483.12" y1="133.00" x2="485.92" y2="133.00" stroke="#111" stroke-width="1.1" />
<line x1="482.02" y1="143.80" x2="487.02" y2="143.80" stroke="#111" stroke-width="1.1" />
<line x1="484.52" y1="141.30" x2="484.52" y2="146.30" stroke="#111" stroke-width="1.1" />
<rect x="396.90" y="120.60" width="5.4" height="5.4" fill="#111"/>
<text x="402.50" y="119.00" font-size="8.5" fill="#111" text-anchor="start" stroke="#111" stroke-width="0.12" textLength="66.5" lengthAdjust="spacingAndGlyphs" transform="rotate(-90 402.50 119.00)" >CD11b <tspan font-size="6" dy="-2.6">+</tspan><tspan dy="2.6">cells [%]</tspan></text>
<text x="517.80" y="89.50" font-size="8" fill="#111" text-anchor="start" stroke="#111" stroke-width="0.12" textLength="21.5" lengthAdjust="spacingAndGlyphs" transform="rotate(-90 517.80 89.50)" >mean</text>
<line x1="515.30" y1="90.50" x2="515.30" y2="113.40" stroke="#a02020" stroke-width="0.9" />
<path d="M512.80,102.00 L515.30,99.50 L517.80,102.00 L515.30,104.50 Z" fill="#a01818"/>
<text x="386.90" y="137.00" font-size="8.5" fill="#111" text-anchor="start" stroke="#111" stroke-width="0.12" textLength="21.8" lengthAdjust="spacingAndGlyphs" >ATRA</text>
<text x="386.90" y="146.20" font-size="8.5" fill="#111" text-anchor="start" stroke="#111" stroke-width="0.12" textLength="42.6" lengthAdjust="spacingAndGlyphs" >G/GM-CSF</text>
<rect x="421.30" y="161.30" width="72.00" height="81.70" fill="none" stroke="#8a8a8a" stroke-width="0.9"/>
<line x1="419.80" y1="243.00" x2="421.30" y2="243.00" stroke="#666" stroke-width="0.6" />
<text x="417.70" y="245.20" font-size="6.2" fill="#111" text-anchor="end" stroke="#111" stroke-width="0.12">0</text>
<line x1="419.80" y1="226.66" x2="421.30" y2="226.66" stroke="#666" stroke-width="0.6" />
<text x="417.70" y="228.86" font-size="6.2" fill="#111" text-anchor="end" stroke="#111" stroke-width="0.12">10</text>
<line x1="419.80" y1="210.32" x2="421.30" y2="210.32" stroke="#666" stroke-width="0.6" />
<text x="417.70" y="212.52" font-size="6.2" fill="#111" text-anchor="end" stroke="#111" stroke-width="0.12">20</text>
<line x1="419.80" y1="193.98" x2="421.30" y2="193.98" stroke="#666" stroke-width="0.6" />
<text x="417.70" y="196.18" font-size="6.2" fill="#111" text-anchor="end" stroke="#111" stroke-width="0.12">30</text>
<line x1="419.80" y1="177.64" x2="421.30" y2="177.64" stroke="#666" stroke-width="0.6" />
<text x="417.70" y="179.84" font-size="6.2" fill="#111" text-anchor="end" stroke="#111" stroke-width="0.12">40</text>
<line x1="419.80" y1="161.30" x2="421.30" y2="161.30" stroke="#666" stroke-width="0.6" />
<text x="417.70" y="163.50" font-size="6.2" fill="#111" text-anchor="end" stroke="#111" stroke-width="0.12">50</text>
<line x1="493.30" y1="243.00" x2="494.80" y2="243.00" stroke="#666" stroke-width="0.6" />
<text x="497.30" y="245.20" font-size="6.2" fill="#b03848" text-anchor="start" stroke="#b03848" stroke-width="0.12">0</text>
<line x1="493.30" y1="229.38" x2="494.80" y2="229.38" stroke="#666" stroke-width="0.6" />
<text x="497.30" y="231.58" font-size="6.2" fill="#b03848" text-anchor="start" stroke="#b03848" stroke-width="0.12">5</text>
<line x1="493.30" y1="215.77" x2="494.80" y2="215.77" stroke="#666" stroke-width="0.6" />
<text x="497.30" y="217.97" font-size="6.2" fill="#b03848" text-anchor="start" stroke="#b03848" stroke-width="0.12">10</text>
<line x1="493.30" y1="202.15" x2="494.80" y2="202.15" stroke="#666" stroke-width="0.6" />
<text x="497.30" y="204.35" font-size="6.2" fill="#b03848" text-anchor="start" stroke="#b03848" stroke-width="0.12">15</text>
<line x1="493.30" y1="188.53" x2="494.80" y2="188.53" stroke="#666" stroke-width="0.6" />
<text x="497.30" y="190.73" font-size="6.2" fill="#b03848" text-anchor="start" stroke="#b03848" stroke-width="0.12">20</text>
<line x1="493.30" y1="174.92" x2="494.80" y2="174.92" stroke="#666" stroke-width="0.6" />
<text x="497.30" y="177.12" font-size="6.2" fill="#b03848" text-anchor="start" stroke="#b03848" stroke-width="0.12">25</text>
<line x1="493.30" y1="161.30" x2="494.80" y2="161.30" stroke="#666" stroke-width="0.6" />
<text x="497.30" y="163.50" font-size="6.2" fill="#b03848" text-anchor="start" stroke="#b03848" stroke-width="0.12">30</text>
<rect x="426.72" y="220.12" width="7.6" height="22.88" fill="url(#bargrad)" stroke="#111" stroke-width="0.5"/>
<text x="430.52" y="217.52" font-size="6" fill="#111" text-anchor="middle" >14</text>
<rect x="444.57" y="221.76" width="7.6" height="21.24" fill="url(#bargrad)" stroke="#111" stroke-width="0.5"/>
<text x="448.37" y="219.16" font-size="6" fill="#111" text-anchor="middle" >13</text>
<rect x="462.43" y="192.35" width="7.6" height="50.65" fill="url(#bargrad)" stroke="#111" stroke-width="0.5"/>
<text x="466.23" y="189.75" font-size="6" fill="#111" text-anchor="middle" >31</text>
<rect x="480.28" y="193.98" width="7.6" height="49.02" fill="url(#bargrad)" stroke="#111" stroke-width="0.5"/>
<text x="484.08" y="191.38" font-size="6" fill="#111" text-anchor="middle" >30</text>
<polyline points="430.52,228.84 448.37,226.93 466.23,196.16 484.08,208.69" fill="none" stroke="#c05050" stroke-width="0.6"/>
<path d="M429.32,228.84 L430.52,227.64 L431.72,228.84 L430.52,230.04 Z" fill="#a02020"/>
<path d="M447.17,226.93 L448.37,225.73 L449.57,226.93 L448.37,228.13 Z" fill="#a02020"/>
<path d="M465.03,196.16 L466.23,194.96 L467.43,196.16 L466.23,197.36 Z" fill="#a02020"/>
<path d="M482.88,208.69 L484.08,207.49 L485.28,208.69 L484.08,209.89 Z" fill="#a02020"/>
<line x1="429.12" y1="250.80" x2="431.92" y2="250.80" stroke="#111" stroke-width="1.1" />
<line x1="429.12" y1="259.50" x2="431.92" y2="259.50" stroke="#111" stroke-width="1.1" />
<line x1="445.87" y1="250.80" x2="450.87" y2="250.80" stroke="#111" stroke-width="1.1" />
<line x1="448.37" y1="248.30" x2="448.37" y2="253.30" stroke="#111" stroke-width="1.1" />
<line x1="446.97" y1="259.50" x2="449.77" y2="259.50" stroke="#111" stroke-width="1.1" />
<line x1="463.73" y1="250.80" x2="468.73" y2="250.80" stroke="#111" stroke-width="1.1" />
<line x1="466.23" y1="248.30" x2="466.23" y2="253.30" stroke="#111" stroke-width="1.1" />
<line x1="463.73" y1="259.50" x2="468.73" y2="259.50" stroke="#111" stroke-width="1.1" />
<line x1="466.23" y1="257.00" x2="466.23" y2="262.00" stroke="#111" stroke-width="1.1" />
<line x1="482.68" y1="250.80" x2="485.48" y2="250.80" stroke="#111" stroke-width="1.1" />
<line x1="481.58" y1="259.50" x2="486.58" y2="259.50" stroke="#111" stroke-width="1.1" />
<line x1="484.08" y1="257.00" x2="484.08" y2="262.00" stroke="#111" stroke-width="1.1" />
<rect x="422.60" y="276.70" width="70.10" height="81.30" fill="none" stroke="#8a8a8a" stroke-width="0.9"/>
<line x1="421.10" y1="358.00" x2="422.60" y2="358.00" stroke="#666" stroke-width="0.6" />
<text x="419.00" y="360.20" font-size="6.2" fill="#111" text-anchor="end" stroke="#111" stroke-width="0.12">0</text>
<line x1="421.10" y1="341.74" x2="422.60" y2="341.74" stroke="#666" stroke-width="0.6" />
<text x="419.00" y="343.94" font-size="6.2" fill="#111" text-anchor="end" stroke="#111" stroke-width="0.12">10</text>
<line x1="421.10" y1="325.48" x2="422.60" y2="325.48" stroke="#666" stroke-width="0.6" />
<text x="419.00" y="327.68" font-size="6.2" fill="#111" text-anchor="end" stroke="#111" stroke-width="0.12">20</text>
<line x1="421.10" y1="309.22" x2="422.60" y2="309.22" stroke="#666" stroke-width="0.6" />
<text x="419.00" y="311.42" font-size="6.2" fill="#111" text-anchor="end" stroke="#111" stroke-width="0.12">30</text>
<line x1="421.10" y1="292.96" x2="422.60" y2="292.96" stroke="#666" stroke-width="0.6" />
<text x="419.00" y="295.16" font-size="6.2" fill="#111" text-anchor="end" stroke="#111" stroke-width="0.12">40</text>
<line x1="421.10" y1="276.70" x2="422.60" y2="276.70" stroke="#666" stroke-width="0.6" />
<text x="419.00" y="278.90" font-size="6.2" fill="#111" text-anchor="end" stroke="#111" stroke-width="0.12">50</text>
<line x1="492.70" y1="358.00" x2="494.20" y2="358.00" stroke="#666" stroke-width="0.6" />
<text x="496.70" y="360.20" font-size="6.2" fill="#b03848" text-anchor="start" stroke="#b03848" stroke-width="0.12">0</text>
<line x1="492.70" y1="344.45" x2="494.20" y2="344.45" stroke="#666" stroke-width="0.6" />
<text x="496.70" y="346.65" font-size="6.2" fill="#b03848" text-anchor="start" stroke="#b03848" stroke-width="0.12">5</text>
<line x1="492.70" y1="330.90" x2="494.20" y2="330.90" stroke="#666" stroke-width="0.6" />
<text x="496.70" y="333.10" font-size="6.2" fill="#b03848" text-anchor="start" stroke="#b03848" stroke-width="0.12">10</text>
<line x1="492.70" y1="317.35" x2="494.20" y2="317.35" stroke="#666" stroke-width="0.6" />
<text x="496.70" y="319.55" font-size="6.2" fill="#b03848" text-anchor="start" stroke="#b03848" stroke-width="0.12">15</text>
<line x1="492.70" y1="303.80" x2="494.20" y2="303.80" stroke="#666" stroke-width="0.6" />
<text x="496.70" y="306.00" font-size="6.2" fill="#b03848" text-anchor="start" stroke="#b03848" stroke-width="0.12">20</text>
<line x1="492.70" y1="290.25" x2="494.20" y2="290.25" stroke="#666" stroke-width="0.6" />
<text x="496.70" y="292.45" font-size="6.2" fill="#b03848" text-anchor="start" stroke="#b03848" stroke-width="0.12">25</text>
<line x1="492.70" y1="276.70" x2="494.20" y2="276.70" stroke="#666" stroke-width="0.6" />
<text x="496.70" y="278.90" font-size="6.2" fill="#b03848" text-anchor="start" stroke="#b03848" stroke-width="0.12">30</text>
<text x="431.57" y="355.40" font-size="6" fill="#111" text-anchor="middle" >0.0</text>
<rect x="445.16" y="357.35" width="7.6" height="0.65" fill="url(#bargrad)" stroke="#111" stroke-width="0.5"/>
<text x="448.96" y="354.75" font-size="6" fill="#111" text-anchor="middle" >0.4</text>
<rect x="462.54" y="337.19" width="7.6" height="20.81" fill="url(#bargrad)" stroke="#111" stroke-width="0.5"/>
<text x="466.34" y="334.59" font-size="6" fill="#111" text-anchor="middle" >12.8</text>
<rect x="479.93" y="331.01" width="7.6" height="26.99" fill="url(#bargrad)" stroke="#111" stroke-width="0.5"/>
<text x="483.73" y="328.41" font-size="6" fill="#111" text-anchor="middle" >16.6</text>
<polyline points="431.57,349.33 448.96,349.33 466.34,340.38 483.73,340.38" fill="none" stroke="#c05050" stroke-width="0.6"/>
<path d="M430.37,349.33 L431.57,348.13 L432.77,349.33 L431.57,350.53 Z" fill="#a02020"/>
<path d="M447.76,349.33 L448.96,348.13 L450.16,349.33 L448.96,350.53 Z" fill="#a02020"/>
<path d="M465.14,340.38 L466.34,339.19 L467.54,340.38 L466.34,341.58 Z" fill="#a02020"/>
<path d="M482.53,340.38 L483.73,339.19 L484.93,340.38 L483.73,341.58 Z" fill="#a02020"/>
<line x1="430.17" y1="365.70" x2="432.97" y2="365.70" stroke="#111" stroke-width="1.1" />
<line x1="430.17" y1="375.30" x2="432.97" y2="375.30" stroke="#111" stroke-width="1.1" />
<line x1="446.46" y1="365.70" x2="451.46" y2="365.70" stroke="#111" stroke-width="1.1" />
<line x1="448.96" y1="363.20" x2="448.96" y2="368.20" stroke="#111" stroke-width="1.1" />
<line x1="447.56" y1="375.30" x2="450.36" y2="375.30" stroke="#111" stroke-width="1.1" />
<line x1="463.84" y1="365.70" x2="468.84" y2="365.70" stroke="#111" stroke-width="1.1" />
<line x1="466.34" y1="363.20" x2="466.34" y2="368.20" stroke="#111" stroke-width="1.1" />
<line x1="463.84" y1="375.30" x2="468.84" y2="375.30" stroke="#111" stroke-width="1.1" />
<line x1="466.34" y1="372.80" x2="466.34" y2="377.80" stroke="#111" stroke-width="1.1" />
<line x1="482.33" y1="365.70" x2="485.13" y2="365.70" stroke="#111" stroke-width="1.1" />
<line x1="481.23" y1="375.30" x2="486.23" y2="375.30" stroke="#111" stroke-width="1.1" />
<line x1="483.73" y1="372.80" x2="483.73" y2="377.80" stroke="#111" stroke-width="1.1" />
<line x1="14.20" y1="287.00" x2="14.20" y2="376.60" stroke="#000" stroke-width="1.6" />
<line x1="13.40" y1="377.00" x2="138.40" y2="377.00" stroke="#000" stroke-width="1.6" />
<path d="M14.20,278.6 L18.00,289 L10.40,289 Z" fill="#000"/>
<path d="M145.40,377 L135.40,373.1 L135.40,380.9 Z" fill="#000"/>
<text x="9.10" y="377.50" font-size="9.9" fill="#111" text-anchor="start" stroke="#111" stroke-width="0.12" textLength="88.5" lengthAdjust="spacingAndGlyphs" transform="rotate(-90 9.10 377.50)" >Relative cell number</text>
<text x="2.80" y="389.50" font-size="9.8" fill="#111" text-anchor="start" stroke="#111" stroke-width="0.12" textLength="140.8" lengthAdjust="spacingAndGlyphs" >CD11b log fluorescence intensity</text>
<line x1="278.20" y1="287.00" x2="278.20" y2="376.60" stroke="#000" stroke-width="1.6" />
<line x1="277.40" y1="377.00" x2="401.40" y2="377.00" stroke="#000" stroke-width="1.6" />
<path d="M278.20,278.6 L282.00,289 L274.40,289 Z" fill="#000"/>
<path d="M408.40,377 L398.40,373.1 L398.40,380.9 Z" fill="#000"/>
<text x="273.10" y="377.50" font-size="9.9" fill="#111" text-anchor="start" stroke="#111" stroke-width="0.12" textLength="88.5" lengthAdjust="spacingAndGlyphs" transform="rotate(-90 273.10 377.50)" >Relative cell number</text>
<text x="266.20" y="389.50" font-size="9.8" fill="#111" text-anchor="start" stroke="#111" stroke-width="0.12" textLength="140.8" lengthAdjust="spacingAndGlyphs" >CD11b log fluorescence intensity</text>
<text x="7.60" y="425.50" font-size="17" fill="#111" text-anchor="start" font-weight="bold" textLength="12" lengthAdjust="spacingAndGlyphs" >C</text>
<text x="28.00" y="423.80" font-size="12" fill="#111" text-anchor="start" font-weight="bold" textLength="52.5" lengthAdjust="spacingAndGlyphs" >Cell lines</text>
<text x="36.70" y="441.30" font-size="10.8" fill="#111" text-anchor="start" stroke="#111" stroke-width="0.12" textLength="34.5" lengthAdjust="spacingAndGlyphs" >Control</text>
<text x="117.80" y="442.20" font-size="11" fill="#111" text-anchor="start" stroke="#111" stroke-width="0.12" textLength="90.5" lengthAdjust="spacingAndGlyphs" >ATRA+G/GM-CSF</text>
<text x="259.20" y="426.00" font-size="17" fill="#111" text-anchor="start" font-weight="bold" textLength="11.8" lengthAdjust="spacingAndGlyphs" >D</text>
<text x="282.30" y="422.50" font-size="12" fill="#111" text-anchor="start" font-weight="bold" textLength="46.3" lengthAdjust="spacingAndGlyphs" >Patients</text>
<text x="297.10" y="441.30" font-size="10.8" fill="#111" text-anchor="start" stroke="#111" stroke-width="0.12" textLength="35" lengthAdjust="spacingAndGlyphs" >Control</text>
<text x="380.90" y="442.20" font-size="11" fill="#111" text-anchor="start" stroke="#111" stroke-width="0.12" textLength="89.3" lengthAdjust="spacingAndGlyphs" >ATRA+G/GM-CSF</text></g>
</svg>
</body></html>
